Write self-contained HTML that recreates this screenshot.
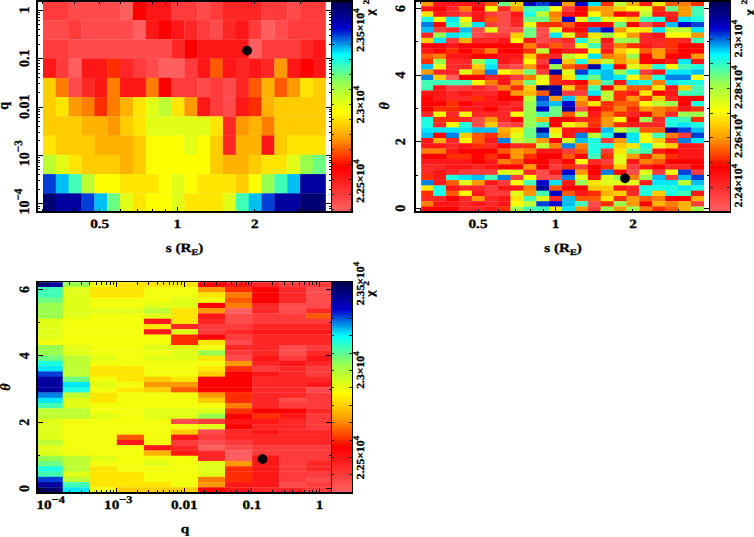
<!DOCTYPE html><html><head><meta charset="utf-8"><style>html,body{margin:0;padding:0;background:#fff;width:754px;height:537px;overflow:hidden}svg{display:block}circle,text{shape-rendering:geometricPrecision}</style></head><body><svg width="754" height="537" viewBox="0 0 754 537" shape-rendering="crispEdges" text-rendering="geometricPrecision"><defs><linearGradient id="cb" x1="0" y1="0" x2="0" y2="1"><stop offset="0.0000" stop-color="#000050"/><stop offset="0.0250" stop-color="#000068"/><stop offset="0.0500" stop-color="#000080"/><stop offset="0.0750" stop-color="#000097"/><stop offset="0.1000" stop-color="#0000af"/><stop offset="0.1250" stop-color="#0000c7"/><stop offset="0.1304" stop-color="#0000cc"/><stop offset="0.1500" stop-color="#0027d4"/><stop offset="0.1750" stop-color="#005ade"/><stop offset="0.2000" stop-color="#008ce8"/><stop offset="0.2250" stop-color="#00bff2"/><stop offset="0.2500" stop-color="#00f1fc"/><stop offset="0.2569" stop-color="#00ffff"/><stop offset="0.2750" stop-color="#15ffe7"/><stop offset="0.3000" stop-color="#31ffc6"/><stop offset="0.3250" stop-color="#4effa5"/><stop offset="0.3500" stop-color="#6aff83"/><stop offset="0.3750" stop-color="#86ff62"/><stop offset="0.3913" stop-color="#99ff4d"/><stop offset="0.4000" stop-color="#a0ff48"/><stop offset="0.4250" stop-color="#b3ff39"/><stop offset="0.4500" stop-color="#c6ff2b"/><stop offset="0.4750" stop-color="#d9ff1d"/><stop offset="0.5000" stop-color="#ecff0f"/><stop offset="0.5250" stop-color="#feff00"/><stop offset="0.5257" stop-color="#ffff00"/><stop offset="0.5500" stop-color="#ffeb00"/><stop offset="0.5750" stop-color="#ffd700"/><stop offset="0.6000" stop-color="#ffc300"/><stop offset="0.6250" stop-color="#ffaf00"/><stop offset="0.6500" stop-color="#ff9b00"/><stop offset="0.6522" stop-color="#ff9900"/><stop offset="0.6750" stop-color="#ff7f00"/><stop offset="0.7000" stop-color="#ff6300"/><stop offset="0.7250" stop-color="#ff4600"/><stop offset="0.7500" stop-color="#ff2a00"/><stop offset="0.7750" stop-color="#ff0d00"/><stop offset="0.7866" stop-color="#ff0000"/><stop offset="0.8000" stop-color="#ff0606"/><stop offset="0.8250" stop-color="#ff1212"/><stop offset="0.8500" stop-color="#ff1d1d"/><stop offset="0.8750" stop-color="#ff2929"/><stop offset="0.9000" stop-color="#ff3434"/><stop offset="0.9250" stop-color="#ff4040"/><stop offset="0.9500" stop-color="#ff4b4b"/><stop offset="0.9750" stop-color="#ff5757"/><stop offset="1.0000" stop-color="#ff6262"/></linearGradient></defs>
<rect x="0.00" y="0.00" width="754.00" height="537.00" fill="#fff"/>
<defs><filter id="bl" x="-2%" y="-2%" width="104%" height="104%"><feGaussianBlur stdDeviation="0.45"/></filter></defs>
<g filter="url(#bl)" shape-rendering="geometricPrecision">
<rect x="43.00" y="1.00" width="25.92" height="19.40" fill="#ff3a3a"/>
<rect x="68.62" y="1.00" width="51.74" height="19.40" fill="#ff4c4c"/>
<rect x="120.06" y="1.00" width="13.16" height="19.40" fill="#ff5f5f"/>
<rect x="132.92" y="1.00" width="13.16" height="19.40" fill="#ff0000"/>
<rect x="145.78" y="1.00" width="26.02" height="19.40" fill="#ff1616"/>
<rect x="171.50" y="1.00" width="26.02" height="19.40" fill="#ff3a3a"/>
<rect x="197.22" y="1.00" width="13.16" height="19.40" fill="#ff4c4c"/>
<rect x="210.08" y="1.00" width="13.16" height="19.40" fill="#ff3a3a"/>
<rect x="222.94" y="1.00" width="38.88" height="19.40" fill="#ff2828"/>
<rect x="261.52" y="1.00" width="26.02" height="19.40" fill="#ff3a3a"/>
<rect x="287.24" y="1.00" width="13.16" height="19.40" fill="#ff4c4c"/>
<rect x="300.10" y="1.00" width="25.70" height="19.40" fill="#ff3a3a"/>
<rect x="43.00" y="20.10" width="25.92" height="19.55" fill="#ff4c4c"/>
<rect x="68.62" y="20.10" width="13.16" height="19.55" fill="#ff3a3a"/>
<rect x="81.48" y="20.10" width="51.74" height="19.55" fill="#ff4c4c"/>
<rect x="132.92" y="20.10" width="13.16" height="19.55" fill="#ff5f5f"/>
<rect x="145.78" y="20.10" width="13.16" height="19.55" fill="#ff1616"/>
<rect x="158.64" y="20.10" width="13.16" height="19.55" fill="#ff0000"/>
<rect x="171.50" y="20.10" width="13.16" height="19.55" fill="#ff1616"/>
<rect x="184.36" y="20.10" width="13.16" height="19.55" fill="#ff2828"/>
<rect x="197.22" y="20.10" width="13.16" height="19.55" fill="#ff3a3a"/>
<rect x="210.08" y="20.10" width="13.16" height="19.55" fill="#ff4c4c"/>
<rect x="222.94" y="20.10" width="13.16" height="19.55" fill="#ff2828"/>
<rect x="235.80" y="20.10" width="13.16" height="19.55" fill="#ff1616"/>
<rect x="248.66" y="20.10" width="13.16" height="19.55" fill="#ff3a3a"/>
<rect x="261.52" y="20.10" width="13.16" height="19.55" fill="#ff5f5f"/>
<rect x="274.38" y="20.10" width="13.16" height="19.55" fill="#ff4c4c"/>
<rect x="287.24" y="20.10" width="38.56" height="19.55" fill="#ff3a3a"/>
<rect x="43.00" y="39.35" width="25.92" height="19.55" fill="#ff3a3a"/>
<rect x="68.62" y="39.35" width="103.18" height="19.55" fill="#ff4c4c"/>
<rect x="171.50" y="39.35" width="13.16" height="19.55" fill="#ff2828"/>
<rect x="184.36" y="39.35" width="13.16" height="19.55" fill="#ff0000"/>
<rect x="197.22" y="39.35" width="51.74" height="19.55" fill="#ff1616"/>
<rect x="248.66" y="39.35" width="13.16" height="19.55" fill="#ff5f5f"/>
<rect x="261.52" y="39.35" width="38.88" height="19.55" fill="#ff3a3a"/>
<rect x="300.10" y="39.35" width="13.16" height="19.55" fill="#ff2828"/>
<rect x="312.96" y="39.35" width="12.84" height="19.55" fill="#ff1616"/>
<rect x="43.00" y="58.60" width="13.06" height="19.55" fill="#ff1616"/>
<rect x="55.76" y="58.60" width="13.16" height="19.55" fill="#ff3a3a"/>
<rect x="68.62" y="58.60" width="13.16" height="19.55" fill="#ff5f5f"/>
<rect x="81.48" y="58.60" width="26.02" height="19.55" fill="#ff1616"/>
<rect x="107.20" y="58.60" width="13.16" height="19.55" fill="#ff2d00"/>
<rect x="120.06" y="58.60" width="13.16" height="19.55" fill="#ff2828"/>
<rect x="132.92" y="58.60" width="13.16" height="19.55" fill="#ff3a3a"/>
<rect x="145.78" y="58.60" width="13.16" height="19.55" fill="#ff4c4c"/>
<rect x="158.64" y="58.60" width="26.02" height="19.55" fill="#ff5f5f"/>
<rect x="184.36" y="58.60" width="13.16" height="19.55" fill="#ff3a3a"/>
<rect x="197.22" y="58.60" width="13.16" height="19.55" fill="#ff1616"/>
<rect x="210.08" y="58.60" width="13.16" height="19.55" fill="#ff5a00"/>
<rect x="222.94" y="58.60" width="13.16" height="19.55" fill="#ff1616"/>
<rect x="235.80" y="58.60" width="13.16" height="19.55" fill="#ff2828"/>
<rect x="248.66" y="58.60" width="13.16" height="19.55" fill="#ff1616"/>
<rect x="261.52" y="58.60" width="13.16" height="19.55" fill="#ff2828"/>
<rect x="274.38" y="58.60" width="13.16" height="19.55" fill="#ff9900"/>
<rect x="287.24" y="58.60" width="13.16" height="19.55" fill="#ff1616"/>
<rect x="300.10" y="58.60" width="13.16" height="19.55" fill="#ff0000"/>
<rect x="312.96" y="58.60" width="12.84" height="19.55" fill="#ff1616"/>
<rect x="43.00" y="77.85" width="13.06" height="19.55" fill="#ffcc00"/>
<rect x="55.76" y="77.85" width="13.16" height="19.55" fill="#ff7e00"/>
<rect x="68.62" y="77.85" width="13.16" height="19.55" fill="#ff4c4c"/>
<rect x="81.48" y="77.85" width="13.16" height="19.55" fill="#ff2828"/>
<rect x="94.34" y="77.85" width="13.16" height="19.55" fill="#ff1616"/>
<rect x="107.20" y="77.85" width="13.16" height="19.55" fill="#ff7e00"/>
<rect x="120.06" y="77.85" width="26.02" height="19.55" fill="#ff1616"/>
<rect x="145.78" y="77.85" width="13.16" height="19.55" fill="#ff7e00"/>
<rect x="158.64" y="77.85" width="13.16" height="19.55" fill="#ff0000"/>
<rect x="171.50" y="77.85" width="26.02" height="19.55" fill="#ff3a3a"/>
<rect x="197.22" y="77.85" width="13.16" height="19.55" fill="#ff4c4c"/>
<rect x="210.08" y="77.85" width="13.16" height="19.55" fill="#ff3a3a"/>
<rect x="222.94" y="77.85" width="13.16" height="19.55" fill="#ff4c4c"/>
<rect x="235.80" y="77.85" width="13.16" height="19.55" fill="#ff2828"/>
<rect x="248.66" y="77.85" width="13.16" height="19.55" fill="#ff5a00"/>
<rect x="261.52" y="77.85" width="13.16" height="19.55" fill="#ffb200"/>
<rect x="274.38" y="77.85" width="13.16" height="19.55" fill="#ff5a00"/>
<rect x="287.24" y="77.85" width="13.16" height="19.55" fill="#ff9900"/>
<rect x="300.10" y="77.85" width="13.16" height="19.55" fill="#ffe600"/>
<rect x="312.96" y="77.85" width="12.84" height="19.55" fill="#ffcc00"/>
<rect x="43.00" y="97.10" width="13.06" height="19.55" fill="#ffcc00"/>
<rect x="55.76" y="97.10" width="13.16" height="19.55" fill="#ffe600"/>
<rect x="68.62" y="97.10" width="13.16" height="19.55" fill="#ff9900"/>
<rect x="81.48" y="97.10" width="13.16" height="19.55" fill="#ff7e00"/>
<rect x="94.34" y="97.10" width="13.16" height="19.55" fill="#ff2d00"/>
<rect x="107.20" y="97.10" width="13.16" height="19.55" fill="#ff7e00"/>
<rect x="120.06" y="97.10" width="13.16" height="19.55" fill="#ffb200"/>
<rect x="132.92" y="97.10" width="13.16" height="19.55" fill="#ffe600"/>
<rect x="145.78" y="97.10" width="13.16" height="19.55" fill="#e1ff17"/>
<rect x="158.64" y="97.10" width="13.16" height="19.55" fill="#bdff31"/>
<rect x="171.50" y="97.10" width="13.16" height="19.55" fill="#ffe600"/>
<rect x="184.36" y="97.10" width="13.16" height="19.55" fill="#ff9900"/>
<rect x="197.22" y="97.10" width="13.16" height="19.55" fill="#ff1616"/>
<rect x="210.08" y="97.10" width="13.16" height="19.55" fill="#ff3a3a"/>
<rect x="222.94" y="97.10" width="13.16" height="19.55" fill="#ff4c4c"/>
<rect x="235.80" y="97.10" width="13.16" height="19.55" fill="#ff1616"/>
<rect x="248.66" y="97.10" width="13.16" height="19.55" fill="#ff2d00"/>
<rect x="261.52" y="97.10" width="13.16" height="19.55" fill="#ffb200"/>
<rect x="274.38" y="97.10" width="51.42" height="19.55" fill="#ffcc00"/>
<rect x="43.00" y="116.35" width="38.78" height="19.55" fill="#ffcc00"/>
<rect x="81.48" y="116.35" width="26.02" height="19.55" fill="#ffb200"/>
<rect x="107.20" y="116.35" width="13.16" height="19.55" fill="#ff9900"/>
<rect x="120.06" y="116.35" width="13.16" height="19.55" fill="#ffcc00"/>
<rect x="132.92" y="116.35" width="13.16" height="19.55" fill="#ffe600"/>
<rect x="145.78" y="116.35" width="64.60" height="19.55" fill="#e1ff17"/>
<rect x="210.08" y="116.35" width="13.16" height="19.55" fill="#ffe600"/>
<rect x="222.94" y="116.35" width="13.16" height="19.55" fill="#ff2828"/>
<rect x="235.80" y="116.35" width="13.16" height="19.55" fill="#ff9900"/>
<rect x="248.66" y="116.35" width="13.16" height="19.55" fill="#ffb200"/>
<rect x="261.52" y="116.35" width="13.16" height="19.55" fill="#ff7e00"/>
<rect x="274.38" y="116.35" width="51.42" height="19.55" fill="#ffcc00"/>
<rect x="43.00" y="135.60" width="13.06" height="19.55" fill="#ffe600"/>
<rect x="55.76" y="135.60" width="38.88" height="19.55" fill="#ffcc00"/>
<rect x="94.34" y="135.60" width="38.88" height="19.55" fill="#ffb200"/>
<rect x="132.92" y="135.60" width="13.16" height="19.55" fill="#ffcc00"/>
<rect x="145.78" y="135.60" width="38.88" height="19.55" fill="#ffff00"/>
<rect x="184.36" y="135.60" width="13.16" height="19.55" fill="#e1ff17"/>
<rect x="197.22" y="135.60" width="13.16" height="19.55" fill="#ffff00"/>
<rect x="210.08" y="135.60" width="13.16" height="19.55" fill="#ffcc00"/>
<rect x="222.94" y="135.60" width="13.16" height="19.55" fill="#ff2828"/>
<rect x="235.80" y="135.60" width="26.02" height="19.55" fill="#ffb200"/>
<rect x="261.52" y="135.60" width="13.16" height="19.55" fill="#ff1616"/>
<rect x="274.38" y="135.60" width="13.16" height="19.55" fill="#ffcc00"/>
<rect x="287.24" y="135.60" width="38.56" height="19.55" fill="#ffe600"/>
<rect x="43.00" y="154.85" width="13.06" height="19.55" fill="#bdff31"/>
<rect x="55.76" y="154.85" width="13.16" height="19.55" fill="#e1ff17"/>
<rect x="68.62" y="154.85" width="13.16" height="19.55" fill="#ffe600"/>
<rect x="81.48" y="154.85" width="38.88" height="19.55" fill="#ffcc00"/>
<rect x="120.06" y="154.85" width="13.16" height="19.55" fill="#ffb200"/>
<rect x="132.92" y="154.85" width="13.16" height="19.55" fill="#ffcc00"/>
<rect x="145.78" y="154.85" width="64.60" height="19.55" fill="#ffff00"/>
<rect x="210.08" y="154.85" width="13.16" height="19.55" fill="#ffcc00"/>
<rect x="222.94" y="154.85" width="26.02" height="19.55" fill="#ffb200"/>
<rect x="248.66" y="154.85" width="13.16" height="19.55" fill="#ffcc00"/>
<rect x="261.52" y="154.85" width="26.02" height="19.55" fill="#ffe600"/>
<rect x="287.24" y="154.85" width="13.16" height="19.55" fill="#e1ff17"/>
<rect x="300.10" y="154.85" width="13.16" height="19.55" fill="#99ff4d"/>
<rect x="312.96" y="154.85" width="12.84" height="19.55" fill="#6cff81"/>
<rect x="43.00" y="174.10" width="13.06" height="19.55" fill="#0040d9"/>
<rect x="55.76" y="174.10" width="13.16" height="19.55" fill="#00bff2"/>
<rect x="68.62" y="174.10" width="13.16" height="19.55" fill="#3fffb5"/>
<rect x="81.48" y="174.10" width="13.16" height="19.55" fill="#bdff31"/>
<rect x="94.34" y="174.10" width="26.02" height="19.55" fill="#ffff00"/>
<rect x="120.06" y="174.10" width="38.88" height="19.55" fill="#ffe600"/>
<rect x="158.64" y="174.10" width="13.16" height="19.55" fill="#ffff00"/>
<rect x="171.50" y="174.10" width="13.16" height="19.55" fill="#e1ff17"/>
<rect x="184.36" y="174.10" width="13.16" height="19.55" fill="#ffff00"/>
<rect x="197.22" y="174.10" width="38.88" height="19.55" fill="#ffe600"/>
<rect x="235.80" y="174.10" width="13.16" height="19.55" fill="#ffcc00"/>
<rect x="248.66" y="174.10" width="13.16" height="19.55" fill="#ffff00"/>
<rect x="261.52" y="174.10" width="13.16" height="19.55" fill="#99ff4d"/>
<rect x="274.38" y="174.10" width="13.16" height="19.55" fill="#3fffb5"/>
<rect x="287.24" y="174.10" width="13.16" height="19.55" fill="#00bff2"/>
<rect x="300.10" y="174.10" width="25.70" height="19.55" fill="#00009f"/>
<rect x="43.00" y="193.35" width="13.06" height="18.65" fill="#000072"/>
<rect x="55.76" y="193.35" width="26.02" height="18.65" fill="#00009f"/>
<rect x="81.48" y="193.35" width="13.16" height="18.65" fill="#0040d9"/>
<rect x="94.34" y="193.35" width="13.16" height="18.65" fill="#00bff2"/>
<rect x="107.20" y="193.35" width="13.16" height="18.65" fill="#6cff81"/>
<rect x="120.06" y="193.35" width="13.16" height="18.65" fill="#e1ff17"/>
<rect x="132.92" y="193.35" width="13.16" height="18.65" fill="#ffe600"/>
<rect x="145.78" y="193.35" width="26.02" height="18.65" fill="#ffff00"/>
<rect x="171.50" y="193.35" width="13.16" height="18.65" fill="#e1ff17"/>
<rect x="184.36" y="193.35" width="38.88" height="18.65" fill="#ffe600"/>
<rect x="222.94" y="193.35" width="13.16" height="18.65" fill="#e1ff17"/>
<rect x="235.80" y="193.35" width="13.16" height="18.65" fill="#3fffb5"/>
<rect x="248.66" y="193.35" width="13.16" height="18.65" fill="#00bff2"/>
<rect x="261.52" y="193.35" width="13.16" height="18.65" fill="#0040d9"/>
<rect x="274.38" y="193.35" width="26.02" height="18.65" fill="#00009f"/>
<rect x="300.10" y="193.35" width="25.70" height="18.65" fill="#000072"/>
</g>
<rect x="331.30" y="1.00" width="20.70" height="211.00" fill="url(#cb)"/>
<g filter="url(#bl)" shape-rendering="geometricPrecision">
<rect x="421.20" y="1.00" width="12.24" height="5.52" fill="#ff9900"/>
<rect x="433.14" y="1.00" width="51.86" height="5.52" fill="#ff1616"/>
<rect x="484.70" y="1.00" width="13.19" height="5.52" fill="#ff5a00"/>
<rect x="497.59" y="1.00" width="13.19" height="5.52" fill="#6cff81"/>
<rect x="510.48" y="1.00" width="13.19" height="5.52" fill="#ffcc00"/>
<rect x="523.37" y="1.00" width="13.19" height="5.52" fill="#0000cc"/>
<rect x="536.26" y="1.00" width="13.19" height="5.52" fill="#0040d9"/>
<rect x="549.15" y="1.00" width="13.19" height="5.52" fill="#00009f"/>
<rect x="562.04" y="1.00" width="13.19" height="5.52" fill="#ff9900"/>
<rect x="574.93" y="1.00" width="13.19" height="5.52" fill="#0000cc"/>
<rect x="587.82" y="1.00" width="13.19" height="5.52" fill="#00e7fa"/>
<rect x="600.71" y="1.00" width="13.19" height="5.52" fill="#ff2d00"/>
<rect x="613.60" y="1.00" width="13.19" height="5.52" fill="#bdff31"/>
<rect x="626.49" y="1.00" width="13.19" height="5.52" fill="#ffb200"/>
<rect x="639.38" y="1.00" width="13.19" height="5.52" fill="#ff1616"/>
<rect x="652.27" y="1.00" width="13.19" height="5.52" fill="#ffe600"/>
<rect x="665.16" y="1.00" width="13.19" height="5.52" fill="#ff5a00"/>
<rect x="678.05" y="1.00" width="13.19" height="5.52" fill="#ff7e00"/>
<rect x="690.94" y="1.00" width="13.06" height="5.52" fill="#ff2d00"/>
<rect x="421.20" y="6.22" width="12.24" height="5.57" fill="#ff1616"/>
<rect x="433.14" y="6.22" width="13.19" height="5.57" fill="#ff0000"/>
<rect x="446.03" y="6.22" width="13.19" height="5.57" fill="#ff2828"/>
<rect x="458.92" y="6.22" width="13.19" height="5.57" fill="#ff7e00"/>
<rect x="471.81" y="6.22" width="13.19" height="5.57" fill="#ff0000"/>
<rect x="484.70" y="6.22" width="13.19" height="5.57" fill="#ffff00"/>
<rect x="497.59" y="6.22" width="13.19" height="5.57" fill="#ff2828"/>
<rect x="510.48" y="6.22" width="13.19" height="5.57" fill="#ff9900"/>
<rect x="523.37" y="6.22" width="26.08" height="5.57" fill="#3fffb5"/>
<rect x="549.15" y="6.22" width="13.19" height="5.57" fill="#ffff00"/>
<rect x="562.04" y="6.22" width="13.19" height="5.57" fill="#ff3a3a"/>
<rect x="574.93" y="6.22" width="13.19" height="5.57" fill="#ff0000"/>
<rect x="587.82" y="6.22" width="26.08" height="5.57" fill="#ff9900"/>
<rect x="613.60" y="6.22" width="13.19" height="5.57" fill="#ffcc00"/>
<rect x="626.49" y="6.22" width="13.19" height="5.57" fill="#ffff00"/>
<rect x="639.38" y="6.22" width="13.19" height="5.57" fill="#e1ff17"/>
<rect x="652.27" y="6.22" width="13.19" height="5.57" fill="#ff2d00"/>
<rect x="665.16" y="6.22" width="13.19" height="5.57" fill="#6cff81"/>
<rect x="678.05" y="6.22" width="13.19" height="5.57" fill="#ff9900"/>
<rect x="690.94" y="6.22" width="13.06" height="5.57" fill="#3fffb5"/>
<rect x="421.20" y="11.49" width="12.24" height="5.57" fill="#ffe600"/>
<rect x="433.14" y="11.49" width="13.19" height="5.57" fill="#ff1616"/>
<rect x="446.03" y="11.49" width="13.19" height="5.57" fill="#ff2828"/>
<rect x="458.92" y="11.49" width="13.19" height="5.57" fill="#ff3a3a"/>
<rect x="471.81" y="11.49" width="13.19" height="5.57" fill="#ff1616"/>
<rect x="484.70" y="11.49" width="13.19" height="5.57" fill="#ff3a3a"/>
<rect x="497.59" y="11.49" width="13.19" height="5.57" fill="#ff4c4c"/>
<rect x="510.48" y="11.49" width="13.19" height="5.57" fill="#ff1616"/>
<rect x="523.37" y="11.49" width="13.19" height="5.57" fill="#1bffe0"/>
<rect x="536.26" y="11.49" width="13.19" height="5.57" fill="#bdff31"/>
<rect x="549.15" y="11.49" width="13.19" height="5.57" fill="#ff7e00"/>
<rect x="562.04" y="11.49" width="13.19" height="5.57" fill="#ff1616"/>
<rect x="574.93" y="11.49" width="13.19" height="5.57" fill="#ff0000"/>
<rect x="587.82" y="11.49" width="13.19" height="5.57" fill="#ffff00"/>
<rect x="600.71" y="11.49" width="13.19" height="5.57" fill="#ff9900"/>
<rect x="613.60" y="11.49" width="13.19" height="5.57" fill="#ff0000"/>
<rect x="626.49" y="11.49" width="13.19" height="5.57" fill="#ff1616"/>
<rect x="639.38" y="11.49" width="13.19" height="5.57" fill="#bdff31"/>
<rect x="652.27" y="11.49" width="13.19" height="5.57" fill="#ff1616"/>
<rect x="665.16" y="11.49" width="13.19" height="5.57" fill="#ff2828"/>
<rect x="678.05" y="11.49" width="13.19" height="5.57" fill="#ff9900"/>
<rect x="690.94" y="11.49" width="13.06" height="5.57" fill="#3fffb5"/>
<rect x="421.20" y="16.76" width="12.24" height="5.57" fill="#1bffe0"/>
<rect x="433.14" y="16.76" width="13.19" height="5.57" fill="#ffff00"/>
<rect x="446.03" y="16.76" width="13.19" height="5.57" fill="#00e7fa"/>
<rect x="458.92" y="16.76" width="13.19" height="5.57" fill="#ffff00"/>
<rect x="471.81" y="16.76" width="13.19" height="5.57" fill="#ff1616"/>
<rect x="484.70" y="16.76" width="13.19" height="5.57" fill="#ff5a00"/>
<rect x="497.59" y="16.76" width="13.19" height="5.57" fill="#ff4c4c"/>
<rect x="510.48" y="16.76" width="13.19" height="5.57" fill="#ff2828"/>
<rect x="523.37" y="16.76" width="26.08" height="5.57" fill="#6cff81"/>
<rect x="549.15" y="16.76" width="13.19" height="5.57" fill="#ff9900"/>
<rect x="562.04" y="16.76" width="13.19" height="5.57" fill="#0000cc"/>
<rect x="574.93" y="16.76" width="13.19" height="5.57" fill="#e1ff17"/>
<rect x="587.82" y="16.76" width="13.19" height="5.57" fill="#3fffb5"/>
<rect x="600.71" y="16.76" width="13.19" height="5.57" fill="#e1ff17"/>
<rect x="613.60" y="16.76" width="13.19" height="5.57" fill="#ffff00"/>
<rect x="626.49" y="16.76" width="13.19" height="5.57" fill="#ffcc00"/>
<rect x="639.38" y="16.76" width="13.19" height="5.57" fill="#3fffb5"/>
<rect x="652.27" y="16.76" width="13.19" height="5.57" fill="#1bffe0"/>
<rect x="665.16" y="16.76" width="13.19" height="5.57" fill="#ff1616"/>
<rect x="678.05" y="16.76" width="13.19" height="5.57" fill="#00e7fa"/>
<rect x="690.94" y="16.76" width="13.06" height="5.57" fill="#1bffe0"/>
<rect x="421.20" y="22.03" width="12.24" height="5.57" fill="#007fe6"/>
<rect x="433.14" y="22.03" width="13.19" height="5.57" fill="#ff0000"/>
<rect x="446.03" y="22.03" width="13.19" height="5.57" fill="#1bffe0"/>
<rect x="458.92" y="22.03" width="13.19" height="5.57" fill="#bdff31"/>
<rect x="471.81" y="22.03" width="13.19" height="5.57" fill="#00e7fa"/>
<rect x="484.70" y="22.03" width="13.19" height="5.57" fill="#ff3a3a"/>
<rect x="497.59" y="22.03" width="13.19" height="5.57" fill="#ff4c4c"/>
<rect x="510.48" y="22.03" width="13.19" height="5.57" fill="#ff2828"/>
<rect x="523.37" y="22.03" width="13.19" height="5.57" fill="#e1ff17"/>
<rect x="536.26" y="22.03" width="26.08" height="5.57" fill="#ff2d00"/>
<rect x="562.04" y="22.03" width="13.19" height="5.57" fill="#ff5a00"/>
<rect x="574.93" y="22.03" width="38.97" height="5.57" fill="#ff0000"/>
<rect x="613.60" y="22.03" width="13.19" height="5.57" fill="#6cff81"/>
<rect x="626.49" y="22.03" width="13.19" height="5.57" fill="#ff0000"/>
<rect x="639.38" y="22.03" width="13.19" height="5.57" fill="#ff4c4c"/>
<rect x="652.27" y="22.03" width="13.19" height="5.57" fill="#ff1616"/>
<rect x="665.16" y="22.03" width="13.19" height="5.57" fill="#00bff2"/>
<rect x="678.05" y="22.03" width="13.19" height="5.57" fill="#0000cc"/>
<rect x="690.94" y="22.03" width="13.06" height="5.57" fill="#0040d9"/>
<rect x="421.20" y="27.30" width="12.24" height="5.57" fill="#00bff2"/>
<rect x="433.14" y="27.30" width="13.19" height="5.57" fill="#ff3a3a"/>
<rect x="446.03" y="27.30" width="13.19" height="5.57" fill="#ff2828"/>
<rect x="458.92" y="27.30" width="13.19" height="5.57" fill="#00bff2"/>
<rect x="471.81" y="27.30" width="13.19" height="5.57" fill="#ff4c4c"/>
<rect x="484.70" y="27.30" width="13.19" height="5.57" fill="#e1ff17"/>
<rect x="497.59" y="27.30" width="26.08" height="5.57" fill="#ff4c4c"/>
<rect x="523.37" y="27.30" width="13.19" height="5.57" fill="#6cff81"/>
<rect x="536.26" y="27.30" width="13.19" height="5.57" fill="#ff4c4c"/>
<rect x="549.15" y="27.30" width="13.19" height="5.57" fill="#e1ff17"/>
<rect x="562.04" y="27.30" width="13.19" height="5.57" fill="#ff1616"/>
<rect x="574.93" y="27.30" width="13.19" height="5.57" fill="#ff0000"/>
<rect x="587.82" y="27.30" width="13.19" height="5.57" fill="#007fe6"/>
<rect x="600.71" y="27.30" width="13.19" height="5.57" fill="#0000cc"/>
<rect x="613.60" y="27.30" width="13.19" height="5.57" fill="#ff9900"/>
<rect x="626.49" y="27.30" width="13.19" height="5.57" fill="#ffff00"/>
<rect x="639.38" y="27.30" width="13.19" height="5.57" fill="#ffe600"/>
<rect x="652.27" y="27.30" width="13.19" height="5.57" fill="#00e7fa"/>
<rect x="665.16" y="27.30" width="26.08" height="5.57" fill="#bdff31"/>
<rect x="690.94" y="27.30" width="13.06" height="5.57" fill="#00e7fa"/>
<rect x="421.20" y="32.57" width="12.24" height="5.57" fill="#ff2828"/>
<rect x="433.14" y="32.57" width="13.19" height="5.57" fill="#99ff4d"/>
<rect x="446.03" y="32.57" width="13.19" height="5.57" fill="#00e7fa"/>
<rect x="458.92" y="32.57" width="13.19" height="5.57" fill="#1bffe0"/>
<rect x="471.81" y="32.57" width="13.19" height="5.57" fill="#ff4c4c"/>
<rect x="484.70" y="32.57" width="26.08" height="5.57" fill="#ff3a3a"/>
<rect x="510.48" y="32.57" width="13.19" height="5.57" fill="#ffcc00"/>
<rect x="523.37" y="32.57" width="13.19" height="5.57" fill="#6cff81"/>
<rect x="536.26" y="32.57" width="13.19" height="5.57" fill="#ff4c4c"/>
<rect x="549.15" y="32.57" width="13.19" height="5.57" fill="#00e7fa"/>
<rect x="562.04" y="32.57" width="13.19" height="5.57" fill="#e1ff17"/>
<rect x="574.93" y="32.57" width="13.19" height="5.57" fill="#ff2d00"/>
<rect x="587.82" y="32.57" width="13.19" height="5.57" fill="#ffe600"/>
<rect x="600.71" y="32.57" width="13.19" height="5.57" fill="#99ff4d"/>
<rect x="613.60" y="32.57" width="13.19" height="5.57" fill="#ffff00"/>
<rect x="626.49" y="32.57" width="13.19" height="5.57" fill="#ff9900"/>
<rect x="639.38" y="32.57" width="13.19" height="5.57" fill="#ff2828"/>
<rect x="652.27" y="32.57" width="13.19" height="5.57" fill="#ff1616"/>
<rect x="665.16" y="32.57" width="26.08" height="5.57" fill="#ffff00"/>
<rect x="690.94" y="32.57" width="13.06" height="5.57" fill="#ff9900"/>
<rect x="421.20" y="37.84" width="12.24" height="5.57" fill="#ffcc00"/>
<rect x="433.14" y="37.84" width="13.19" height="5.57" fill="#00e7fa"/>
<rect x="446.03" y="37.84" width="13.19" height="5.57" fill="#ff3a3a"/>
<rect x="458.92" y="37.84" width="13.19" height="5.57" fill="#ffb200"/>
<rect x="471.81" y="37.84" width="26.08" height="5.57" fill="#ff2828"/>
<rect x="497.59" y="37.84" width="13.19" height="5.57" fill="#ff1616"/>
<rect x="510.48" y="37.84" width="13.19" height="5.57" fill="#ffff00"/>
<rect x="523.37" y="37.84" width="13.19" height="5.57" fill="#ff1616"/>
<rect x="536.26" y="37.84" width="13.19" height="5.57" fill="#ff4c4c"/>
<rect x="549.15" y="37.84" width="13.19" height="5.57" fill="#ff3a3a"/>
<rect x="562.04" y="37.84" width="13.19" height="5.57" fill="#ff2828"/>
<rect x="574.93" y="37.84" width="13.19" height="5.57" fill="#1bffe0"/>
<rect x="587.82" y="37.84" width="13.19" height="5.57" fill="#bdff31"/>
<rect x="600.71" y="37.84" width="13.19" height="5.57" fill="#ff1616"/>
<rect x="613.60" y="37.84" width="26.08" height="5.57" fill="#99ff4d"/>
<rect x="639.38" y="37.84" width="26.08" height="5.57" fill="#ff2828"/>
<rect x="665.16" y="37.84" width="13.19" height="5.57" fill="#ff2d00"/>
<rect x="678.05" y="37.84" width="13.19" height="5.57" fill="#ff2828"/>
<rect x="690.94" y="37.84" width="13.06" height="5.57" fill="#3fffb5"/>
<rect x="421.20" y="43.11" width="25.13" height="5.57" fill="#ff0000"/>
<rect x="446.03" y="43.11" width="13.19" height="5.57" fill="#ff1616"/>
<rect x="458.92" y="43.11" width="64.75" height="5.57" fill="#ff0000"/>
<rect x="523.37" y="43.11" width="13.19" height="5.57" fill="#ff7e00"/>
<rect x="536.26" y="43.11" width="13.19" height="5.57" fill="#ff2828"/>
<rect x="549.15" y="43.11" width="13.19" height="5.57" fill="#ff5a00"/>
<rect x="562.04" y="43.11" width="13.19" height="5.57" fill="#ff3a3a"/>
<rect x="574.93" y="43.11" width="13.19" height="5.57" fill="#e1ff17"/>
<rect x="587.82" y="43.11" width="13.19" height="5.57" fill="#3fffb5"/>
<rect x="600.71" y="43.11" width="13.19" height="5.57" fill="#ff2828"/>
<rect x="613.60" y="43.11" width="13.19" height="5.57" fill="#ff7e00"/>
<rect x="626.49" y="43.11" width="13.19" height="5.57" fill="#ff2d00"/>
<rect x="639.38" y="43.11" width="13.19" height="5.57" fill="#ff1616"/>
<rect x="652.27" y="43.11" width="13.19" height="5.57" fill="#ff2828"/>
<rect x="665.16" y="43.11" width="13.19" height="5.57" fill="#ff2d00"/>
<rect x="678.05" y="43.11" width="25.95" height="5.57" fill="#ff0000"/>
<rect x="421.20" y="48.38" width="12.24" height="5.57" fill="#ff1616"/>
<rect x="433.14" y="48.38" width="13.19" height="5.57" fill="#ff0000"/>
<rect x="446.03" y="48.38" width="13.19" height="5.57" fill="#ff2d00"/>
<rect x="458.92" y="48.38" width="13.19" height="5.57" fill="#ff0000"/>
<rect x="471.81" y="48.38" width="13.19" height="5.57" fill="#ff2d00"/>
<rect x="484.70" y="48.38" width="13.19" height="5.57" fill="#ff7e00"/>
<rect x="497.59" y="48.38" width="26.08" height="5.57" fill="#ff0000"/>
<rect x="523.37" y="48.38" width="13.19" height="5.57" fill="#ff2d00"/>
<rect x="536.26" y="48.38" width="13.19" height="5.57" fill="#bdff31"/>
<rect x="549.15" y="48.38" width="13.19" height="5.57" fill="#ff0000"/>
<rect x="562.04" y="48.38" width="26.08" height="5.57" fill="#ff1616"/>
<rect x="587.82" y="48.38" width="13.19" height="5.57" fill="#ffff00"/>
<rect x="600.71" y="48.38" width="13.19" height="5.57" fill="#ff1616"/>
<rect x="613.60" y="48.38" width="13.19" height="5.57" fill="#ffcc00"/>
<rect x="626.49" y="48.38" width="13.19" height="5.57" fill="#ffff00"/>
<rect x="639.38" y="48.38" width="13.19" height="5.57" fill="#ff5a00"/>
<rect x="652.27" y="48.38" width="13.19" height="5.57" fill="#ff9900"/>
<rect x="665.16" y="48.38" width="13.19" height="5.57" fill="#ff2d00"/>
<rect x="678.05" y="48.38" width="25.95" height="5.57" fill="#ff0000"/>
<rect x="421.20" y="53.65" width="12.24" height="5.57" fill="#ff5a00"/>
<rect x="433.14" y="53.65" width="13.19" height="5.57" fill="#ff7e00"/>
<rect x="446.03" y="53.65" width="26.08" height="5.57" fill="#ff1616"/>
<rect x="471.81" y="53.65" width="26.08" height="5.57" fill="#ff0000"/>
<rect x="497.59" y="53.65" width="26.08" height="5.57" fill="#ff1616"/>
<rect x="523.37" y="53.65" width="13.19" height="5.57" fill="#ffcc00"/>
<rect x="536.26" y="53.65" width="13.19" height="5.57" fill="#ff2d00"/>
<rect x="549.15" y="53.65" width="13.19" height="5.57" fill="#ff2828"/>
<rect x="562.04" y="53.65" width="13.19" height="5.57" fill="#bdff31"/>
<rect x="574.93" y="53.65" width="13.19" height="5.57" fill="#ffff00"/>
<rect x="587.82" y="53.65" width="13.19" height="5.57" fill="#00e7fa"/>
<rect x="600.71" y="53.65" width="13.19" height="5.57" fill="#ff7e00"/>
<rect x="613.60" y="53.65" width="13.19" height="5.57" fill="#ff9900"/>
<rect x="626.49" y="53.65" width="13.19" height="5.57" fill="#99ff4d"/>
<rect x="639.38" y="53.65" width="13.19" height="5.57" fill="#ff0000"/>
<rect x="652.27" y="53.65" width="13.19" height="5.57" fill="#ff9900"/>
<rect x="665.16" y="53.65" width="26.08" height="5.57" fill="#ff0000"/>
<rect x="690.94" y="53.65" width="13.06" height="5.57" fill="#ff9900"/>
<rect x="421.20" y="58.92" width="12.24" height="5.57" fill="#ff2d00"/>
<rect x="433.14" y="58.92" width="13.19" height="5.57" fill="#99ff4d"/>
<rect x="446.03" y="58.92" width="26.08" height="5.57" fill="#ff2828"/>
<rect x="471.81" y="58.92" width="13.19" height="5.57" fill="#99ff4d"/>
<rect x="484.70" y="58.92" width="13.19" height="5.57" fill="#1bffe0"/>
<rect x="497.59" y="58.92" width="13.19" height="5.57" fill="#ff1616"/>
<rect x="510.48" y="58.92" width="13.19" height="5.57" fill="#ff2828"/>
<rect x="523.37" y="58.92" width="13.19" height="5.57" fill="#ffff00"/>
<rect x="536.26" y="58.92" width="13.19" height="5.57" fill="#ff3a3a"/>
<rect x="549.15" y="58.92" width="13.19" height="5.57" fill="#0000cc"/>
<rect x="562.04" y="58.92" width="13.19" height="5.57" fill="#ffcc00"/>
<rect x="574.93" y="58.92" width="13.19" height="5.57" fill="#1bffe0"/>
<rect x="587.82" y="58.92" width="13.19" height="5.57" fill="#ffcc00"/>
<rect x="600.71" y="58.92" width="13.19" height="5.57" fill="#bdff31"/>
<rect x="613.60" y="58.92" width="13.19" height="5.57" fill="#ff9900"/>
<rect x="626.49" y="58.92" width="13.19" height="5.57" fill="#ffcc00"/>
<rect x="639.38" y="58.92" width="26.08" height="5.57" fill="#ff0000"/>
<rect x="665.16" y="58.92" width="13.19" height="5.57" fill="#ff1616"/>
<rect x="678.05" y="58.92" width="13.19" height="5.57" fill="#00e7fa"/>
<rect x="690.94" y="58.92" width="13.06" height="5.57" fill="#ff1616"/>
<rect x="421.20" y="64.19" width="12.24" height="5.57" fill="#00bff2"/>
<rect x="433.14" y="64.19" width="13.19" height="5.57" fill="#e1ff17"/>
<rect x="446.03" y="64.19" width="26.08" height="5.57" fill="#ff2828"/>
<rect x="471.81" y="64.19" width="13.19" height="5.57" fill="#ffcc00"/>
<rect x="484.70" y="64.19" width="13.19" height="5.57" fill="#00e7fa"/>
<rect x="497.59" y="64.19" width="13.19" height="5.57" fill="#ff3a3a"/>
<rect x="510.48" y="64.19" width="13.19" height="5.57" fill="#ff4c4c"/>
<rect x="523.37" y="64.19" width="13.19" height="5.57" fill="#ff9900"/>
<rect x="536.26" y="64.19" width="13.19" height="5.57" fill="#ff1616"/>
<rect x="549.15" y="64.19" width="13.19" height="5.57" fill="#99ff4d"/>
<rect x="562.04" y="64.19" width="13.19" height="5.57" fill="#ff5a00"/>
<rect x="574.93" y="64.19" width="13.19" height="5.57" fill="#ff2d00"/>
<rect x="587.82" y="64.19" width="13.19" height="5.57" fill="#00009f"/>
<rect x="600.71" y="64.19" width="13.19" height="5.57" fill="#00e7fa"/>
<rect x="613.60" y="64.19" width="13.19" height="5.57" fill="#ff0000"/>
<rect x="626.49" y="64.19" width="13.19" height="5.57" fill="#e1ff17"/>
<rect x="639.38" y="64.19" width="13.19" height="5.57" fill="#ffcc00"/>
<rect x="652.27" y="64.19" width="13.19" height="5.57" fill="#1bffe0"/>
<rect x="665.16" y="64.19" width="13.19" height="5.57" fill="#ffff00"/>
<rect x="678.05" y="64.19" width="13.19" height="5.57" fill="#3fffb5"/>
<rect x="690.94" y="64.19" width="13.06" height="5.57" fill="#1bffe0"/>
<rect x="421.20" y="69.46" width="12.24" height="5.57" fill="#ff9900"/>
<rect x="433.14" y="69.46" width="26.08" height="5.57" fill="#ff2828"/>
<rect x="458.92" y="69.46" width="13.19" height="5.57" fill="#e1ff17"/>
<rect x="471.81" y="69.46" width="13.19" height="5.57" fill="#ff9900"/>
<rect x="484.70" y="69.46" width="13.19" height="5.57" fill="#007fe6"/>
<rect x="497.59" y="69.46" width="13.19" height="5.57" fill="#ffff00"/>
<rect x="510.48" y="69.46" width="13.19" height="5.57" fill="#ffcc00"/>
<rect x="523.37" y="69.46" width="13.19" height="5.57" fill="#6cff81"/>
<rect x="536.26" y="69.46" width="13.19" height="5.57" fill="#ff3a3a"/>
<rect x="549.15" y="69.46" width="13.19" height="5.57" fill="#00009f"/>
<rect x="562.04" y="69.46" width="13.19" height="5.57" fill="#e1ff17"/>
<rect x="574.93" y="69.46" width="13.19" height="5.57" fill="#0040d9"/>
<rect x="587.82" y="69.46" width="13.19" height="5.57" fill="#00e7fa"/>
<rect x="600.71" y="69.46" width="13.19" height="5.57" fill="#00bff2"/>
<rect x="613.60" y="69.46" width="13.19" height="5.57" fill="#99ff4d"/>
<rect x="626.49" y="69.46" width="13.19" height="5.57" fill="#1bffe0"/>
<rect x="639.38" y="69.46" width="13.19" height="5.57" fill="#ff3a3a"/>
<rect x="652.27" y="69.46" width="13.19" height="5.57" fill="#ff1616"/>
<rect x="665.16" y="69.46" width="26.08" height="5.57" fill="#00e7fa"/>
<rect x="690.94" y="69.46" width="13.06" height="5.57" fill="#00bff2"/>
<rect x="421.20" y="74.73" width="12.24" height="5.57" fill="#007fe6"/>
<rect x="433.14" y="74.73" width="13.19" height="5.57" fill="#ffcc00"/>
<rect x="446.03" y="74.73" width="13.19" height="5.57" fill="#ff5f5f"/>
<rect x="458.92" y="74.73" width="26.08" height="5.57" fill="#ff0000"/>
<rect x="484.70" y="74.73" width="13.19" height="5.57" fill="#ff2828"/>
<rect x="497.59" y="74.73" width="13.19" height="5.57" fill="#ff1616"/>
<rect x="510.48" y="74.73" width="13.19" height="5.57" fill="#ff3a3a"/>
<rect x="523.37" y="74.73" width="13.19" height="5.57" fill="#ff7e00"/>
<rect x="536.26" y="74.73" width="13.19" height="5.57" fill="#e1ff17"/>
<rect x="549.15" y="74.73" width="13.19" height="5.57" fill="#ff2d00"/>
<rect x="562.04" y="74.73" width="13.19" height="5.57" fill="#ffe600"/>
<rect x="574.93" y="74.73" width="13.19" height="5.57" fill="#1bffe0"/>
<rect x="587.82" y="74.73" width="13.19" height="5.57" fill="#6cff81"/>
<rect x="600.71" y="74.73" width="13.19" height="5.57" fill="#00bff2"/>
<rect x="613.60" y="74.73" width="13.19" height="5.57" fill="#00e7fa"/>
<rect x="626.49" y="74.73" width="13.19" height="5.57" fill="#ffff00"/>
<rect x="639.38" y="74.73" width="13.19" height="5.57" fill="#ff9900"/>
<rect x="652.27" y="74.73" width="13.19" height="5.57" fill="#1bffe0"/>
<rect x="665.16" y="74.73" width="26.08" height="5.57" fill="#007fe6"/>
<rect x="690.94" y="74.73" width="13.06" height="5.57" fill="#ffff00"/>
<rect x="421.20" y="80.00" width="50.91" height="5.57" fill="#3fffb5"/>
<rect x="471.81" y="80.00" width="13.19" height="5.57" fill="#ffff00"/>
<rect x="484.70" y="80.00" width="13.19" height="5.57" fill="#ff7e00"/>
<rect x="497.59" y="80.00" width="13.19" height="5.57" fill="#ff1616"/>
<rect x="510.48" y="80.00" width="13.19" height="5.57" fill="#ff9900"/>
<rect x="523.37" y="80.00" width="13.19" height="5.57" fill="#6cff81"/>
<rect x="536.26" y="80.00" width="13.19" height="5.57" fill="#ffff00"/>
<rect x="549.15" y="80.00" width="13.19" height="5.57" fill="#ff2d00"/>
<rect x="562.04" y="80.00" width="13.19" height="5.57" fill="#ff1616"/>
<rect x="574.93" y="80.00" width="13.19" height="5.57" fill="#ff0000"/>
<rect x="587.82" y="80.00" width="13.19" height="5.57" fill="#ffb200"/>
<rect x="600.71" y="80.00" width="13.19" height="5.57" fill="#3fffb5"/>
<rect x="613.60" y="80.00" width="13.19" height="5.57" fill="#ff1616"/>
<rect x="626.49" y="80.00" width="13.19" height="5.57" fill="#00e7fa"/>
<rect x="639.38" y="80.00" width="13.19" height="5.57" fill="#1bffe0"/>
<rect x="652.27" y="80.00" width="13.19" height="5.57" fill="#ff7e00"/>
<rect x="665.16" y="80.00" width="13.19" height="5.57" fill="#00e7fa"/>
<rect x="678.05" y="80.00" width="25.95" height="5.57" fill="#1bffe0"/>
<rect x="421.20" y="85.27" width="12.24" height="5.57" fill="#3fffb5"/>
<rect x="433.14" y="85.27" width="13.19" height="5.57" fill="#ff1616"/>
<rect x="446.03" y="85.27" width="26.08" height="5.57" fill="#ff3a3a"/>
<rect x="471.81" y="85.27" width="13.19" height="5.57" fill="#ff2828"/>
<rect x="484.70" y="85.27" width="13.19" height="5.57" fill="#ff3a3a"/>
<rect x="497.59" y="85.27" width="13.19" height="5.57" fill="#ff7e00"/>
<rect x="510.48" y="85.27" width="13.19" height="5.57" fill="#ff2d00"/>
<rect x="523.37" y="85.27" width="13.19" height="5.57" fill="#ffcc00"/>
<rect x="536.26" y="85.27" width="13.19" height="5.57" fill="#000072"/>
<rect x="549.15" y="85.27" width="13.19" height="5.57" fill="#00009f"/>
<rect x="562.04" y="85.27" width="13.19" height="5.57" fill="#ffcc00"/>
<rect x="574.93" y="85.27" width="13.19" height="5.57" fill="#ff2d00"/>
<rect x="587.82" y="85.27" width="13.19" height="5.57" fill="#3fffb5"/>
<rect x="600.71" y="85.27" width="13.19" height="5.57" fill="#ff0000"/>
<rect x="613.60" y="85.27" width="13.19" height="5.57" fill="#ffcc00"/>
<rect x="626.49" y="85.27" width="26.08" height="5.57" fill="#ff5a00"/>
<rect x="652.27" y="85.27" width="13.19" height="5.57" fill="#ffe600"/>
<rect x="665.16" y="85.27" width="13.19" height="5.57" fill="#ff1616"/>
<rect x="678.05" y="85.27" width="13.19" height="5.57" fill="#ffcc00"/>
<rect x="690.94" y="85.27" width="13.06" height="5.57" fill="#3fffb5"/>
<rect x="421.20" y="90.54" width="25.13" height="5.57" fill="#ff1616"/>
<rect x="446.03" y="90.54" width="13.19" height="5.57" fill="#ff2828"/>
<rect x="458.92" y="90.54" width="13.19" height="5.57" fill="#ff1616"/>
<rect x="471.81" y="90.54" width="26.08" height="5.57" fill="#ff2828"/>
<rect x="497.59" y="90.54" width="13.19" height="5.57" fill="#ff0000"/>
<rect x="510.48" y="90.54" width="13.19" height="5.57" fill="#ff9900"/>
<rect x="523.37" y="90.54" width="13.19" height="5.57" fill="#ffb200"/>
<rect x="536.26" y="90.54" width="13.19" height="5.57" fill="#ff5a00"/>
<rect x="549.15" y="90.54" width="13.19" height="5.57" fill="#00009f"/>
<rect x="562.04" y="90.54" width="26.08" height="5.57" fill="#ff3a3a"/>
<rect x="587.82" y="90.54" width="13.19" height="5.57" fill="#00e7fa"/>
<rect x="600.71" y="90.54" width="13.19" height="5.57" fill="#bdff31"/>
<rect x="613.60" y="90.54" width="13.19" height="5.57" fill="#ff2d00"/>
<rect x="626.49" y="90.54" width="13.19" height="5.57" fill="#ff1616"/>
<rect x="639.38" y="90.54" width="13.19" height="5.57" fill="#ffe600"/>
<rect x="652.27" y="90.54" width="13.19" height="5.57" fill="#ff0000"/>
<rect x="665.16" y="90.54" width="13.19" height="5.57" fill="#ff1616"/>
<rect x="678.05" y="90.54" width="25.95" height="5.57" fill="#3fffb5"/>
<rect x="421.20" y="95.81" width="12.24" height="5.57" fill="#ff0000"/>
<rect x="433.14" y="95.81" width="13.19" height="5.57" fill="#ff1616"/>
<rect x="446.03" y="95.81" width="26.08" height="5.57" fill="#ff2828"/>
<rect x="471.81" y="95.81" width="13.19" height="5.57" fill="#ff2d00"/>
<rect x="484.70" y="95.81" width="13.19" height="5.57" fill="#ff1616"/>
<rect x="497.59" y="95.81" width="26.08" height="5.57" fill="#ff0000"/>
<rect x="523.37" y="95.81" width="13.19" height="5.57" fill="#bdff31"/>
<rect x="536.26" y="95.81" width="13.19" height="5.57" fill="#0040d9"/>
<rect x="549.15" y="95.81" width="13.19" height="5.57" fill="#ff9900"/>
<rect x="562.04" y="95.81" width="13.19" height="5.57" fill="#00bff2"/>
<rect x="574.93" y="95.81" width="13.19" height="5.57" fill="#ffb200"/>
<rect x="587.82" y="95.81" width="13.19" height="5.57" fill="#ff0000"/>
<rect x="600.71" y="95.81" width="13.19" height="5.57" fill="#bdff31"/>
<rect x="613.60" y="95.81" width="13.19" height="5.57" fill="#ff2d00"/>
<rect x="626.49" y="95.81" width="13.19" height="5.57" fill="#ff9900"/>
<rect x="639.38" y="95.81" width="13.19" height="5.57" fill="#ff2d00"/>
<rect x="652.27" y="95.81" width="13.19" height="5.57" fill="#ffcc00"/>
<rect x="665.16" y="95.81" width="13.19" height="5.57" fill="#ff2828"/>
<rect x="678.05" y="95.81" width="25.95" height="5.57" fill="#ff0000"/>
<rect x="421.20" y="101.08" width="25.13" height="5.57" fill="#ff0000"/>
<rect x="446.03" y="101.08" width="13.19" height="5.57" fill="#ff2d00"/>
<rect x="458.92" y="101.08" width="13.19" height="5.57" fill="#ff0000"/>
<rect x="471.81" y="101.08" width="38.97" height="5.57" fill="#ff1616"/>
<rect x="510.48" y="101.08" width="13.19" height="5.57" fill="#ff2828"/>
<rect x="523.37" y="101.08" width="13.19" height="5.57" fill="#99ff4d"/>
<rect x="536.26" y="101.08" width="13.19" height="5.57" fill="#007fe6"/>
<rect x="549.15" y="101.08" width="13.19" height="5.57" fill="#00bff2"/>
<rect x="562.04" y="101.08" width="13.19" height="5.57" fill="#0000cc"/>
<rect x="574.93" y="101.08" width="13.19" height="5.57" fill="#ff7e00"/>
<rect x="587.82" y="101.08" width="13.19" height="5.57" fill="#ffe600"/>
<rect x="600.71" y="101.08" width="13.19" height="5.57" fill="#ff2d00"/>
<rect x="613.60" y="101.08" width="26.08" height="5.57" fill="#ff5a00"/>
<rect x="639.38" y="101.08" width="13.19" height="5.57" fill="#ffff00"/>
<rect x="652.27" y="101.08" width="13.19" height="5.57" fill="#bdff31"/>
<rect x="665.16" y="101.08" width="13.19" height="5.57" fill="#99ff4d"/>
<rect x="678.05" y="101.08" width="13.19" height="5.57" fill="#ff0000"/>
<rect x="690.94" y="101.08" width="13.06" height="5.57" fill="#1bffe0"/>
<rect x="421.20" y="106.35" width="12.24" height="5.57" fill="#ff0000"/>
<rect x="433.14" y="106.35" width="26.08" height="5.57" fill="#ff2d00"/>
<rect x="458.92" y="106.35" width="26.08" height="5.57" fill="#ff1616"/>
<rect x="484.70" y="106.35" width="13.19" height="5.57" fill="#ff0000"/>
<rect x="497.59" y="106.35" width="13.19" height="5.57" fill="#ff2828"/>
<rect x="510.48" y="106.35" width="13.19" height="5.57" fill="#ff1616"/>
<rect x="523.37" y="106.35" width="13.19" height="5.57" fill="#99ff4d"/>
<rect x="536.26" y="106.35" width="13.19" height="5.57" fill="#0000cc"/>
<rect x="549.15" y="106.35" width="13.19" height="5.57" fill="#6cff81"/>
<rect x="562.04" y="106.35" width="13.19" height="5.57" fill="#00009f"/>
<rect x="574.93" y="106.35" width="13.19" height="5.57" fill="#ff4c4c"/>
<rect x="587.82" y="106.35" width="13.19" height="5.57" fill="#ff0000"/>
<rect x="600.71" y="106.35" width="13.19" height="5.57" fill="#ff2d00"/>
<rect x="613.60" y="106.35" width="13.19" height="5.57" fill="#ff7e00"/>
<rect x="626.49" y="106.35" width="13.19" height="5.57" fill="#ff2d00"/>
<rect x="639.38" y="106.35" width="13.19" height="5.57" fill="#ff9900"/>
<rect x="652.27" y="106.35" width="13.19" height="5.57" fill="#ff7e00"/>
<rect x="665.16" y="106.35" width="13.19" height="5.57" fill="#ff5a00"/>
<rect x="678.05" y="106.35" width="13.19" height="5.57" fill="#ff1616"/>
<rect x="690.94" y="106.35" width="13.06" height="5.57" fill="#ff2d00"/>
<rect x="421.20" y="111.62" width="12.24" height="5.57" fill="#ff2828"/>
<rect x="433.14" y="111.62" width="13.19" height="5.57" fill="#ffff00"/>
<rect x="446.03" y="111.62" width="13.19" height="5.57" fill="#ff2828"/>
<rect x="458.92" y="111.62" width="13.19" height="5.57" fill="#ffff00"/>
<rect x="471.81" y="111.62" width="38.97" height="5.57" fill="#ff2828"/>
<rect x="510.48" y="111.62" width="13.19" height="5.57" fill="#ffff00"/>
<rect x="523.37" y="111.62" width="13.19" height="5.57" fill="#99ff4d"/>
<rect x="536.26" y="111.62" width="13.19" height="5.57" fill="#3fffb5"/>
<rect x="549.15" y="111.62" width="13.19" height="5.57" fill="#6cff81"/>
<rect x="562.04" y="111.62" width="13.19" height="5.57" fill="#ff5a00"/>
<rect x="574.93" y="111.62" width="13.19" height="5.57" fill="#bdff31"/>
<rect x="587.82" y="111.62" width="13.19" height="5.57" fill="#ff1616"/>
<rect x="600.71" y="111.62" width="13.19" height="5.57" fill="#ff7e00"/>
<rect x="613.60" y="111.62" width="13.19" height="5.57" fill="#ff2d00"/>
<rect x="626.49" y="111.62" width="13.19" height="5.57" fill="#ff2828"/>
<rect x="639.38" y="111.62" width="13.19" height="5.57" fill="#ff0000"/>
<rect x="652.27" y="111.62" width="13.19" height="5.57" fill="#ff7e00"/>
<rect x="665.16" y="111.62" width="13.19" height="5.57" fill="#ff2828"/>
<rect x="678.05" y="111.62" width="25.95" height="5.57" fill="#99ff4d"/>
<rect x="421.20" y="116.89" width="12.24" height="5.57" fill="#1bffe0"/>
<rect x="433.14" y="116.89" width="26.08" height="5.57" fill="#ff2d00"/>
<rect x="458.92" y="116.89" width="13.19" height="5.57" fill="#ff2828"/>
<rect x="471.81" y="116.89" width="13.19" height="5.57" fill="#ff4c4c"/>
<rect x="484.70" y="116.89" width="13.19" height="5.57" fill="#ff9900"/>
<rect x="497.59" y="116.89" width="13.19" height="5.57" fill="#ff2828"/>
<rect x="510.48" y="116.89" width="13.19" height="5.57" fill="#ff0000"/>
<rect x="523.37" y="116.89" width="13.19" height="5.57" fill="#99ff4d"/>
<rect x="536.26" y="116.89" width="13.19" height="5.57" fill="#ffb200"/>
<rect x="549.15" y="116.89" width="26.08" height="5.57" fill="#ff0000"/>
<rect x="574.93" y="116.89" width="13.19" height="5.57" fill="#ff2828"/>
<rect x="587.82" y="116.89" width="13.19" height="5.57" fill="#ff2d00"/>
<rect x="600.71" y="116.89" width="13.19" height="5.57" fill="#ff9900"/>
<rect x="613.60" y="116.89" width="13.19" height="5.57" fill="#ffff00"/>
<rect x="626.49" y="116.89" width="13.19" height="5.57" fill="#ff0000"/>
<rect x="639.38" y="116.89" width="13.19" height="5.57" fill="#99ff4d"/>
<rect x="652.27" y="116.89" width="13.19" height="5.57" fill="#ff2828"/>
<rect x="665.16" y="116.89" width="13.19" height="5.57" fill="#1bffe0"/>
<rect x="678.05" y="116.89" width="13.19" height="5.57" fill="#3fffb5"/>
<rect x="690.94" y="116.89" width="13.06" height="5.57" fill="#ff2d00"/>
<rect x="421.20" y="122.16" width="12.24" height="5.57" fill="#1bffe0"/>
<rect x="433.14" y="122.16" width="13.19" height="5.57" fill="#ff2828"/>
<rect x="446.03" y="122.16" width="13.19" height="5.57" fill="#ffff00"/>
<rect x="458.92" y="122.16" width="13.19" height="5.57" fill="#1bffe0"/>
<rect x="471.81" y="122.16" width="13.19" height="5.57" fill="#ff4c4c"/>
<rect x="484.70" y="122.16" width="13.19" height="5.57" fill="#ffcc00"/>
<rect x="497.59" y="122.16" width="13.19" height="5.57" fill="#ff4c4c"/>
<rect x="510.48" y="122.16" width="13.19" height="5.57" fill="#ff3a3a"/>
<rect x="523.37" y="122.16" width="13.19" height="5.57" fill="#99ff4d"/>
<rect x="536.26" y="122.16" width="13.19" height="5.57" fill="#3fffb5"/>
<rect x="549.15" y="122.16" width="13.19" height="5.57" fill="#ff0000"/>
<rect x="562.04" y="122.16" width="13.19" height="5.57" fill="#ffff00"/>
<rect x="574.93" y="122.16" width="13.19" height="5.57" fill="#ffcc00"/>
<rect x="587.82" y="122.16" width="13.19" height="5.57" fill="#ff2d00"/>
<rect x="600.71" y="122.16" width="13.19" height="5.57" fill="#ff9900"/>
<rect x="613.60" y="122.16" width="13.19" height="5.57" fill="#ff2d00"/>
<rect x="626.49" y="122.16" width="13.19" height="5.57" fill="#ff1616"/>
<rect x="639.38" y="122.16" width="26.08" height="5.57" fill="#ff2828"/>
<rect x="665.16" y="122.16" width="13.19" height="5.57" fill="#1bffe0"/>
<rect x="678.05" y="122.16" width="13.19" height="5.57" fill="#00e7fa"/>
<rect x="690.94" y="122.16" width="13.06" height="5.57" fill="#1bffe0"/>
<rect x="421.20" y="127.43" width="50.91" height="5.57" fill="#00e7fa"/>
<rect x="471.81" y="127.43" width="26.08" height="5.57" fill="#00bff2"/>
<rect x="497.59" y="127.43" width="13.19" height="5.57" fill="#ffb200"/>
<rect x="510.48" y="127.43" width="13.19" height="5.57" fill="#ffe600"/>
<rect x="523.37" y="127.43" width="13.19" height="5.57" fill="#6cff81"/>
<rect x="536.26" y="127.43" width="13.19" height="5.57" fill="#00009f"/>
<rect x="549.15" y="127.43" width="13.19" height="5.57" fill="#ffe600"/>
<rect x="562.04" y="127.43" width="26.08" height="5.57" fill="#ff1616"/>
<rect x="587.82" y="127.43" width="13.19" height="5.57" fill="#ff0000"/>
<rect x="600.71" y="127.43" width="13.19" height="5.57" fill="#00bff2"/>
<rect x="613.60" y="127.43" width="13.19" height="5.57" fill="#bdff31"/>
<rect x="626.49" y="127.43" width="13.19" height="5.57" fill="#6cff81"/>
<rect x="639.38" y="127.43" width="26.08" height="5.57" fill="#ff5a00"/>
<rect x="665.16" y="127.43" width="13.19" height="5.57" fill="#00009f"/>
<rect x="678.05" y="127.43" width="13.19" height="5.57" fill="#0040d9"/>
<rect x="690.94" y="127.43" width="13.06" height="5.57" fill="#00bff2"/>
<rect x="421.20" y="132.70" width="12.24" height="5.57" fill="#00bff2"/>
<rect x="433.14" y="132.70" width="13.19" height="5.57" fill="#ff0000"/>
<rect x="446.03" y="132.70" width="13.19" height="5.57" fill="#007fe6"/>
<rect x="458.92" y="132.70" width="13.19" height="5.57" fill="#ffcc00"/>
<rect x="471.81" y="132.70" width="13.19" height="5.57" fill="#ff5a00"/>
<rect x="484.70" y="132.70" width="13.19" height="5.57" fill="#ff2d00"/>
<rect x="497.59" y="132.70" width="13.19" height="5.57" fill="#ff9900"/>
<rect x="510.48" y="132.70" width="13.19" height="5.57" fill="#e1ff17"/>
<rect x="523.37" y="132.70" width="13.19" height="5.57" fill="#6cff81"/>
<rect x="536.26" y="132.70" width="13.19" height="5.57" fill="#007fe6"/>
<rect x="549.15" y="132.70" width="13.19" height="5.57" fill="#e1ff17"/>
<rect x="562.04" y="132.70" width="13.19" height="5.57" fill="#ff1616"/>
<rect x="574.93" y="132.70" width="13.19" height="5.57" fill="#007fe6"/>
<rect x="587.82" y="132.70" width="13.19" height="5.57" fill="#bdff31"/>
<rect x="600.71" y="132.70" width="13.19" height="5.57" fill="#1bffe0"/>
<rect x="613.60" y="132.70" width="13.19" height="5.57" fill="#00009f"/>
<rect x="626.49" y="132.70" width="13.19" height="5.57" fill="#00e7fa"/>
<rect x="639.38" y="132.70" width="13.19" height="5.57" fill="#ffff00"/>
<rect x="652.27" y="132.70" width="13.19" height="5.57" fill="#3fffb5"/>
<rect x="665.16" y="132.70" width="13.19" height="5.57" fill="#ff7e00"/>
<rect x="678.05" y="132.70" width="13.19" height="5.57" fill="#ff3a3a"/>
<rect x="690.94" y="132.70" width="13.06" height="5.57" fill="#0040d9"/>
<rect x="421.20" y="137.97" width="12.24" height="5.57" fill="#ff1616"/>
<rect x="433.14" y="137.97" width="13.19" height="5.57" fill="#ffb200"/>
<rect x="446.03" y="137.97" width="13.19" height="5.57" fill="#ff2828"/>
<rect x="458.92" y="137.97" width="13.19" height="5.57" fill="#ffff00"/>
<rect x="471.81" y="137.97" width="13.19" height="5.57" fill="#ff5a00"/>
<rect x="484.70" y="137.97" width="13.19" height="5.57" fill="#ff1616"/>
<rect x="497.59" y="137.97" width="13.19" height="5.57" fill="#007fe6"/>
<rect x="510.48" y="137.97" width="13.19" height="5.57" fill="#bdff31"/>
<rect x="523.37" y="137.97" width="13.19" height="5.57" fill="#99ff4d"/>
<rect x="536.26" y="137.97" width="13.19" height="5.57" fill="#ff9900"/>
<rect x="549.15" y="137.97" width="13.19" height="5.57" fill="#ff0000"/>
<rect x="562.04" y="137.97" width="13.19" height="5.57" fill="#e1ff17"/>
<rect x="574.93" y="137.97" width="13.19" height="5.57" fill="#00bff2"/>
<rect x="587.82" y="137.97" width="13.19" height="5.57" fill="#1bffe0"/>
<rect x="600.71" y="137.97" width="13.19" height="5.57" fill="#ff3a3a"/>
<rect x="613.60" y="137.97" width="13.19" height="5.57" fill="#ff9900"/>
<rect x="626.49" y="137.97" width="13.19" height="5.57" fill="#00e7fa"/>
<rect x="639.38" y="137.97" width="13.19" height="5.57" fill="#ffff00"/>
<rect x="652.27" y="137.97" width="13.19" height="5.57" fill="#ffcc00"/>
<rect x="665.16" y="137.97" width="13.19" height="5.57" fill="#ff2828"/>
<rect x="678.05" y="137.97" width="13.19" height="5.57" fill="#007fe6"/>
<rect x="690.94" y="137.97" width="13.06" height="5.57" fill="#00e7fa"/>
<rect x="421.20" y="143.24" width="25.13" height="5.57" fill="#ff1616"/>
<rect x="446.03" y="143.24" width="13.19" height="5.57" fill="#ff2828"/>
<rect x="458.92" y="143.24" width="13.19" height="5.57" fill="#ff1616"/>
<rect x="471.81" y="143.24" width="13.19" height="5.57" fill="#ff2d00"/>
<rect x="484.70" y="143.24" width="13.19" height="5.57" fill="#ff2828"/>
<rect x="497.59" y="143.24" width="13.19" height="5.57" fill="#ff0000"/>
<rect x="510.48" y="143.24" width="13.19" height="5.57" fill="#ff2828"/>
<rect x="523.37" y="143.24" width="13.19" height="5.57" fill="#ff2d00"/>
<rect x="536.26" y="143.24" width="13.19" height="5.57" fill="#bdff31"/>
<rect x="549.15" y="143.24" width="13.19" height="5.57" fill="#ff7e00"/>
<rect x="562.04" y="143.24" width="13.19" height="5.57" fill="#007fe6"/>
<rect x="574.93" y="143.24" width="13.19" height="5.57" fill="#ff7e00"/>
<rect x="587.82" y="143.24" width="26.08" height="5.57" fill="#1bffe0"/>
<rect x="613.60" y="143.24" width="13.19" height="5.57" fill="#ffcc00"/>
<rect x="626.49" y="143.24" width="13.19" height="5.57" fill="#ffe600"/>
<rect x="639.38" y="143.24" width="13.19" height="5.57" fill="#1bffe0"/>
<rect x="652.27" y="143.24" width="13.19" height="5.57" fill="#e1ff17"/>
<rect x="665.16" y="143.24" width="13.19" height="5.57" fill="#ffcc00"/>
<rect x="678.05" y="143.24" width="25.95" height="5.57" fill="#ff1616"/>
<rect x="421.20" y="148.51" width="25.13" height="5.57" fill="#ff7e00"/>
<rect x="446.03" y="148.51" width="13.19" height="5.57" fill="#ff1616"/>
<rect x="458.92" y="148.51" width="38.97" height="5.57" fill="#ff0000"/>
<rect x="497.59" y="148.51" width="13.19" height="5.57" fill="#ff5a00"/>
<rect x="510.48" y="148.51" width="13.19" height="5.57" fill="#ff9900"/>
<rect x="523.37" y="148.51" width="13.19" height="5.57" fill="#ff7e00"/>
<rect x="536.26" y="148.51" width="26.08" height="5.57" fill="#ff1616"/>
<rect x="562.04" y="148.51" width="13.19" height="5.57" fill="#ff3a3a"/>
<rect x="574.93" y="148.51" width="13.19" height="5.57" fill="#ff5a00"/>
<rect x="587.82" y="148.51" width="13.19" height="5.57" fill="#1bffe0"/>
<rect x="600.71" y="148.51" width="13.19" height="5.57" fill="#ff3a3a"/>
<rect x="613.60" y="148.51" width="13.19" height="5.57" fill="#ffe600"/>
<rect x="626.49" y="148.51" width="13.19" height="5.57" fill="#6cff81"/>
<rect x="639.38" y="148.51" width="13.19" height="5.57" fill="#3fffb5"/>
<rect x="652.27" y="148.51" width="13.19" height="5.57" fill="#ff1616"/>
<rect x="665.16" y="148.51" width="13.19" height="5.57" fill="#ff0000"/>
<rect x="678.05" y="148.51" width="25.95" height="5.57" fill="#ff1616"/>
<rect x="421.20" y="153.78" width="25.13" height="5.57" fill="#ff0000"/>
<rect x="446.03" y="153.78" width="26.08" height="5.57" fill="#ff2d00"/>
<rect x="471.81" y="153.78" width="13.19" height="5.57" fill="#ff0000"/>
<rect x="484.70" y="153.78" width="13.19" height="5.57" fill="#ff2d00"/>
<rect x="497.59" y="153.78" width="13.19" height="5.57" fill="#ff0000"/>
<rect x="510.48" y="153.78" width="13.19" height="5.57" fill="#ff9900"/>
<rect x="523.37" y="153.78" width="13.19" height="5.57" fill="#ff2d00"/>
<rect x="536.26" y="153.78" width="26.08" height="5.57" fill="#ff0000"/>
<rect x="562.04" y="153.78" width="13.19" height="5.57" fill="#ff5a00"/>
<rect x="574.93" y="153.78" width="13.19" height="5.57" fill="#ff0000"/>
<rect x="587.82" y="153.78" width="13.19" height="5.57" fill="#3fffb5"/>
<rect x="600.71" y="153.78" width="13.19" height="5.57" fill="#ff2d00"/>
<rect x="613.60" y="153.78" width="13.19" height="5.57" fill="#e1ff17"/>
<rect x="626.49" y="153.78" width="13.19" height="5.57" fill="#ff9900"/>
<rect x="639.38" y="153.78" width="13.19" height="5.57" fill="#ff2d00"/>
<rect x="652.27" y="153.78" width="13.19" height="5.57" fill="#ff9900"/>
<rect x="665.16" y="153.78" width="13.19" height="5.57" fill="#ff2d00"/>
<rect x="678.05" y="153.78" width="25.95" height="5.57" fill="#ff1616"/>
<rect x="421.20" y="159.05" width="50.91" height="5.57" fill="#ff1616"/>
<rect x="471.81" y="159.05" width="13.19" height="5.57" fill="#ff0000"/>
<rect x="484.70" y="159.05" width="13.19" height="5.57" fill="#ff1616"/>
<rect x="497.59" y="159.05" width="13.19" height="5.57" fill="#ff7e00"/>
<rect x="510.48" y="159.05" width="13.19" height="5.57" fill="#ff5a00"/>
<rect x="523.37" y="159.05" width="26.08" height="5.57" fill="#ff0000"/>
<rect x="549.15" y="159.05" width="13.19" height="5.57" fill="#ff2828"/>
<rect x="562.04" y="159.05" width="13.19" height="5.57" fill="#ff0000"/>
<rect x="574.93" y="159.05" width="13.19" height="5.57" fill="#ffff00"/>
<rect x="587.82" y="159.05" width="13.19" height="5.57" fill="#ff2828"/>
<rect x="600.71" y="159.05" width="13.19" height="5.57" fill="#ff3a3a"/>
<rect x="613.60" y="159.05" width="13.19" height="5.57" fill="#e1ff17"/>
<rect x="626.49" y="159.05" width="13.19" height="5.57" fill="#ff1616"/>
<rect x="639.38" y="159.05" width="13.19" height="5.57" fill="#ff7e00"/>
<rect x="652.27" y="159.05" width="13.19" height="5.57" fill="#ff5a00"/>
<rect x="665.16" y="159.05" width="38.84" height="5.57" fill="#ff0000"/>
<rect x="421.20" y="164.32" width="25.13" height="5.57" fill="#ff2828"/>
<rect x="446.03" y="164.32" width="26.08" height="5.57" fill="#ff1616"/>
<rect x="471.81" y="164.32" width="13.19" height="5.57" fill="#ff2828"/>
<rect x="484.70" y="164.32" width="13.19" height="5.57" fill="#ff1616"/>
<rect x="497.59" y="164.32" width="26.08" height="5.57" fill="#ff0000"/>
<rect x="523.37" y="164.32" width="13.19" height="5.57" fill="#ff9900"/>
<rect x="536.26" y="164.32" width="13.19" height="5.57" fill="#ff0000"/>
<rect x="549.15" y="164.32" width="13.19" height="5.57" fill="#ff3a3a"/>
<rect x="562.04" y="164.32" width="13.19" height="5.57" fill="#ff2d00"/>
<rect x="574.93" y="164.32" width="13.19" height="5.57" fill="#ff3a3a"/>
<rect x="587.82" y="164.32" width="13.19" height="5.57" fill="#ff0000"/>
<rect x="600.71" y="164.32" width="13.19" height="5.57" fill="#ff2d00"/>
<rect x="613.60" y="164.32" width="13.19" height="5.57" fill="#ffcc00"/>
<rect x="626.49" y="164.32" width="13.19" height="5.57" fill="#ff3a3a"/>
<rect x="639.38" y="164.32" width="13.19" height="5.57" fill="#ff1616"/>
<rect x="652.27" y="164.32" width="13.19" height="5.57" fill="#ff0000"/>
<rect x="665.16" y="164.32" width="26.08" height="5.57" fill="#ff2828"/>
<rect x="690.94" y="164.32" width="13.06" height="5.57" fill="#ff0000"/>
<rect x="421.20" y="169.59" width="12.24" height="5.57" fill="#ff2828"/>
<rect x="433.14" y="169.59" width="13.19" height="5.57" fill="#ff1616"/>
<rect x="446.03" y="169.59" width="13.19" height="5.57" fill="#ff2828"/>
<rect x="458.92" y="169.59" width="38.97" height="5.57" fill="#ff3a3a"/>
<rect x="497.59" y="169.59" width="26.08" height="5.57" fill="#e1ff17"/>
<rect x="523.37" y="169.59" width="13.19" height="5.57" fill="#ff2828"/>
<rect x="536.26" y="169.59" width="13.19" height="5.57" fill="#ff4c4c"/>
<rect x="549.15" y="169.59" width="13.19" height="5.57" fill="#ff1616"/>
<rect x="562.04" y="169.59" width="13.19" height="5.57" fill="#0000cc"/>
<rect x="574.93" y="169.59" width="13.19" height="5.57" fill="#ff9900"/>
<rect x="587.82" y="169.59" width="13.19" height="5.57" fill="#ff0000"/>
<rect x="600.71" y="169.59" width="13.19" height="5.57" fill="#007fe6"/>
<rect x="613.60" y="169.59" width="13.19" height="5.57" fill="#ff0000"/>
<rect x="626.49" y="169.59" width="13.19" height="5.57" fill="#ff4c4c"/>
<rect x="639.38" y="169.59" width="13.19" height="5.57" fill="#e1ff17"/>
<rect x="652.27" y="169.59" width="13.19" height="5.57" fill="#ff3a3a"/>
<rect x="665.16" y="169.59" width="13.19" height="5.57" fill="#ffff00"/>
<rect x="678.05" y="169.59" width="13.19" height="5.57" fill="#0040d9"/>
<rect x="690.94" y="169.59" width="13.06" height="5.57" fill="#ff3a3a"/>
<rect x="421.20" y="174.86" width="12.24" height="5.57" fill="#ff2d00"/>
<rect x="433.14" y="174.86" width="13.19" height="5.57" fill="#ff1616"/>
<rect x="446.03" y="174.86" width="13.19" height="5.57" fill="#1bffe0"/>
<rect x="458.92" y="174.86" width="13.19" height="5.57" fill="#00e7fa"/>
<rect x="471.81" y="174.86" width="13.19" height="5.57" fill="#00bff2"/>
<rect x="484.70" y="174.86" width="13.19" height="5.57" fill="#3fffb5"/>
<rect x="497.59" y="174.86" width="13.19" height="5.57" fill="#007fe6"/>
<rect x="510.48" y="174.86" width="13.19" height="5.57" fill="#ff3a3a"/>
<rect x="523.37" y="174.86" width="13.19" height="5.57" fill="#ffff00"/>
<rect x="536.26" y="174.86" width="26.08" height="5.57" fill="#ff4c4c"/>
<rect x="562.04" y="174.86" width="13.19" height="5.57" fill="#007fe6"/>
<rect x="574.93" y="174.86" width="13.19" height="5.57" fill="#e1ff17"/>
<rect x="587.82" y="174.86" width="13.19" height="5.57" fill="#ff1616"/>
<rect x="600.71" y="174.86" width="13.19" height="5.57" fill="#e1ff17"/>
<rect x="613.60" y="174.86" width="13.19" height="5.57" fill="#99ff4d"/>
<rect x="626.49" y="174.86" width="13.19" height="5.57" fill="#ff7e00"/>
<rect x="639.38" y="174.86" width="13.19" height="5.57" fill="#99ff4d"/>
<rect x="652.27" y="174.86" width="13.19" height="5.57" fill="#00bff2"/>
<rect x="665.16" y="174.86" width="13.19" height="5.57" fill="#ff3a3a"/>
<rect x="678.05" y="174.86" width="13.19" height="5.57" fill="#00bff2"/>
<rect x="690.94" y="174.86" width="13.06" height="5.57" fill="#0040d9"/>
<rect x="421.20" y="180.13" width="12.24" height="5.57" fill="#007fe6"/>
<rect x="433.14" y="180.13" width="13.19" height="5.57" fill="#ff1616"/>
<rect x="446.03" y="180.13" width="13.19" height="5.57" fill="#ff5a00"/>
<rect x="458.92" y="180.13" width="13.19" height="5.57" fill="#e1ff17"/>
<rect x="471.81" y="180.13" width="13.19" height="5.57" fill="#ff9900"/>
<rect x="484.70" y="180.13" width="13.19" height="5.57" fill="#ff1616"/>
<rect x="497.59" y="180.13" width="13.19" height="5.57" fill="#ff3a3a"/>
<rect x="510.48" y="180.13" width="13.19" height="5.57" fill="#ffff00"/>
<rect x="523.37" y="180.13" width="13.19" height="5.57" fill="#3fffb5"/>
<rect x="536.26" y="180.13" width="13.19" height="5.57" fill="#0000cc"/>
<rect x="549.15" y="180.13" width="13.19" height="5.57" fill="#00e7fa"/>
<rect x="562.04" y="180.13" width="13.19" height="5.57" fill="#ff1616"/>
<rect x="574.93" y="180.13" width="13.19" height="5.57" fill="#99ff4d"/>
<rect x="587.82" y="180.13" width="13.19" height="5.57" fill="#ffe600"/>
<rect x="600.71" y="180.13" width="38.97" height="5.57" fill="#e1ff17"/>
<rect x="639.38" y="180.13" width="13.19" height="5.57" fill="#ff1616"/>
<rect x="652.27" y="180.13" width="26.08" height="5.57" fill="#00e7fa"/>
<rect x="678.05" y="180.13" width="13.19" height="5.57" fill="#bdff31"/>
<rect x="690.94" y="180.13" width="13.06" height="5.57" fill="#00bff2"/>
<rect x="421.20" y="185.40" width="12.24" height="5.57" fill="#ffe600"/>
<rect x="433.14" y="185.40" width="13.19" height="5.57" fill="#1bffe0"/>
<rect x="446.03" y="185.40" width="13.19" height="5.57" fill="#ff1616"/>
<rect x="458.92" y="185.40" width="26.08" height="5.57" fill="#ff2828"/>
<rect x="484.70" y="185.40" width="13.19" height="5.57" fill="#ff3a3a"/>
<rect x="497.59" y="185.40" width="26.08" height="5.57" fill="#ff1616"/>
<rect x="523.37" y="185.40" width="13.19" height="5.57" fill="#ff7e00"/>
<rect x="536.26" y="185.40" width="13.19" height="5.57" fill="#00009f"/>
<rect x="549.15" y="185.40" width="13.19" height="5.57" fill="#ff5a00"/>
<rect x="562.04" y="185.40" width="26.08" height="5.57" fill="#ff0000"/>
<rect x="587.82" y="185.40" width="26.08" height="5.57" fill="#ffcc00"/>
<rect x="613.60" y="185.40" width="13.19" height="5.57" fill="#ff1616"/>
<rect x="626.49" y="185.40" width="13.19" height="5.57" fill="#ff2828"/>
<rect x="639.38" y="185.40" width="38.97" height="5.57" fill="#1bffe0"/>
<rect x="678.05" y="185.40" width="13.19" height="5.57" fill="#00e7fa"/>
<rect x="690.94" y="185.40" width="13.06" height="5.57" fill="#1bffe0"/>
<rect x="421.20" y="190.67" width="12.24" height="5.57" fill="#ff2d00"/>
<rect x="433.14" y="190.67" width="13.19" height="5.57" fill="#1bffe0"/>
<rect x="446.03" y="190.67" width="13.19" height="5.57" fill="#ff5a00"/>
<rect x="458.92" y="190.67" width="13.19" height="5.57" fill="#ffff00"/>
<rect x="471.81" y="190.67" width="13.19" height="5.57" fill="#ff1616"/>
<rect x="484.70" y="190.67" width="26.08" height="5.57" fill="#ff3a3a"/>
<rect x="510.48" y="190.67" width="13.19" height="5.57" fill="#e1ff17"/>
<rect x="523.37" y="190.67" width="13.19" height="5.57" fill="#ff9900"/>
<rect x="536.26" y="190.67" width="13.19" height="5.57" fill="#3fffb5"/>
<rect x="549.15" y="190.67" width="13.19" height="5.57" fill="#0000cc"/>
<rect x="562.04" y="190.67" width="13.19" height="5.57" fill="#ff5a00"/>
<rect x="574.93" y="190.67" width="13.19" height="5.57" fill="#ff1616"/>
<rect x="587.82" y="190.67" width="13.19" height="5.57" fill="#ff2d00"/>
<rect x="600.71" y="190.67" width="13.19" height="5.57" fill="#ffb200"/>
<rect x="613.60" y="190.67" width="13.19" height="5.57" fill="#ffcc00"/>
<rect x="626.49" y="190.67" width="13.19" height="5.57" fill="#ff2828"/>
<rect x="639.38" y="190.67" width="13.19" height="5.57" fill="#1bffe0"/>
<rect x="652.27" y="190.67" width="13.19" height="5.57" fill="#ffcc00"/>
<rect x="665.16" y="190.67" width="13.19" height="5.57" fill="#1bffe0"/>
<rect x="678.05" y="190.67" width="13.19" height="5.57" fill="#3fffb5"/>
<rect x="690.94" y="190.67" width="13.06" height="5.57" fill="#ff1616"/>
<rect x="421.20" y="195.94" width="25.13" height="5.57" fill="#ff2828"/>
<rect x="446.03" y="195.94" width="13.19" height="5.57" fill="#ff0000"/>
<rect x="458.92" y="195.94" width="13.19" height="5.57" fill="#ff2828"/>
<rect x="471.81" y="195.94" width="13.19" height="5.57" fill="#ff9900"/>
<rect x="484.70" y="195.94" width="13.19" height="5.57" fill="#ff2828"/>
<rect x="497.59" y="195.94" width="13.19" height="5.57" fill="#ff1616"/>
<rect x="510.48" y="195.94" width="13.19" height="5.57" fill="#ffe600"/>
<rect x="523.37" y="195.94" width="13.19" height="5.57" fill="#3fffb5"/>
<rect x="536.26" y="195.94" width="13.19" height="5.57" fill="#e1ff17"/>
<rect x="549.15" y="195.94" width="13.19" height="5.57" fill="#ff2828"/>
<rect x="562.04" y="195.94" width="13.19" height="5.57" fill="#00bff2"/>
<rect x="574.93" y="195.94" width="26.08" height="5.57" fill="#ff5a00"/>
<rect x="600.71" y="195.94" width="13.19" height="5.57" fill="#ffe600"/>
<rect x="613.60" y="195.94" width="13.19" height="5.57" fill="#ff2d00"/>
<rect x="626.49" y="195.94" width="13.19" height="5.57" fill="#ff9900"/>
<rect x="639.38" y="195.94" width="13.19" height="5.57" fill="#ff5a00"/>
<rect x="652.27" y="195.94" width="13.19" height="5.57" fill="#ff7e00"/>
<rect x="665.16" y="195.94" width="26.08" height="5.57" fill="#ff0000"/>
<rect x="690.94" y="195.94" width="13.06" height="5.57" fill="#ffb200"/>
<rect x="421.20" y="201.21" width="12.24" height="5.57" fill="#ff7e00"/>
<rect x="433.14" y="201.21" width="26.08" height="5.57" fill="#ff1616"/>
<rect x="458.92" y="201.21" width="13.19" height="5.57" fill="#ff2828"/>
<rect x="471.81" y="201.21" width="13.19" height="5.57" fill="#ff1616"/>
<rect x="484.70" y="201.21" width="13.19" height="5.57" fill="#ff2828"/>
<rect x="497.59" y="201.21" width="13.19" height="5.57" fill="#ff1616"/>
<rect x="510.48" y="201.21" width="13.19" height="5.57" fill="#ffff00"/>
<rect x="523.37" y="201.21" width="13.19" height="5.57" fill="#bdff31"/>
<rect x="536.26" y="201.21" width="13.19" height="5.57" fill="#0040d9"/>
<rect x="549.15" y="201.21" width="13.19" height="5.57" fill="#0000cc"/>
<rect x="562.04" y="201.21" width="13.19" height="5.57" fill="#00bff2"/>
<rect x="574.93" y="201.21" width="13.19" height="5.57" fill="#3fffb5"/>
<rect x="587.82" y="201.21" width="13.19" height="5.57" fill="#ff4c4c"/>
<rect x="600.71" y="201.21" width="13.19" height="5.57" fill="#ff2d00"/>
<rect x="613.60" y="201.21" width="13.19" height="5.57" fill="#99ff4d"/>
<rect x="626.49" y="201.21" width="13.19" height="5.57" fill="#ff9900"/>
<rect x="639.38" y="201.21" width="13.19" height="5.57" fill="#ff0000"/>
<rect x="652.27" y="201.21" width="13.19" height="5.57" fill="#ffb200"/>
<rect x="665.16" y="201.21" width="13.19" height="5.57" fill="#ff7e00"/>
<rect x="678.05" y="201.21" width="13.19" height="5.57" fill="#ffb200"/>
<rect x="690.94" y="201.21" width="13.06" height="5.57" fill="#ff3a3a"/>
<rect x="421.20" y="206.48" width="38.02" height="5.52" fill="#ff0000"/>
<rect x="458.92" y="206.48" width="26.08" height="5.52" fill="#ff2828"/>
<rect x="484.70" y="206.48" width="13.19" height="5.52" fill="#ff1616"/>
<rect x="497.59" y="206.48" width="13.19" height="5.52" fill="#ff2d00"/>
<rect x="510.48" y="206.48" width="13.19" height="5.52" fill="#99ff4d"/>
<rect x="523.37" y="206.48" width="26.08" height="5.52" fill="#3fffb5"/>
<rect x="549.15" y="206.48" width="13.19" height="5.52" fill="#ffe600"/>
<rect x="562.04" y="206.48" width="13.19" height="5.52" fill="#00e7fa"/>
<rect x="574.93" y="206.48" width="13.19" height="5.52" fill="#ff9900"/>
<rect x="587.82" y="206.48" width="13.19" height="5.52" fill="#ff3a3a"/>
<rect x="600.71" y="206.48" width="13.19" height="5.52" fill="#99ff4d"/>
<rect x="613.60" y="206.48" width="13.19" height="5.52" fill="#ff9900"/>
<rect x="626.49" y="206.48" width="13.19" height="5.52" fill="#99ff4d"/>
<rect x="639.38" y="206.48" width="13.19" height="5.52" fill="#ff7e00"/>
<rect x="652.27" y="206.48" width="13.19" height="5.52" fill="#ff2d00"/>
<rect x="665.16" y="206.48" width="13.19" height="5.52" fill="#ff5a00"/>
<rect x="678.05" y="206.48" width="13.19" height="5.52" fill="#ffb200"/>
<rect x="690.94" y="206.48" width="13.06" height="5.52" fill="#99ff4d"/>
</g>
<rect x="709.60" y="1.00" width="20.60" height="211.00" fill="url(#cb)"/>
<g filter="url(#bl)" shape-rendering="geometricPrecision">
<rect x="36.60" y="282.20" width="26.45" height="5.17" fill="#00009f"/>
<rect x="62.75" y="282.20" width="27.35" height="5.17" fill="#99ff4d"/>
<rect x="89.80" y="282.20" width="27.35" height="5.17" fill="#f3ff09"/>
<rect x="116.85" y="282.20" width="81.45" height="5.17" fill="#ffe600"/>
<rect x="198.00" y="282.20" width="27.35" height="5.17" fill="#ff0000"/>
<rect x="225.05" y="282.20" width="27.35" height="5.17" fill="#ff1616"/>
<rect x="252.10" y="282.20" width="27.35" height="5.17" fill="#ff2828"/>
<rect x="279.15" y="282.20" width="52.15" height="5.17" fill="#ff3a3a"/>
<rect x="36.60" y="287.07" width="26.45" height="5.57" fill="#3fffb5"/>
<rect x="62.75" y="287.07" width="27.35" height="5.57" fill="#e1ff17"/>
<rect x="89.80" y="287.07" width="54.40" height="5.57" fill="#ffe600"/>
<rect x="143.90" y="287.07" width="54.40" height="5.57" fill="#f3ff09"/>
<rect x="198.00" y="287.07" width="27.35" height="5.57" fill="#ff9900"/>
<rect x="225.05" y="287.07" width="27.35" height="5.57" fill="#ff2d00"/>
<rect x="252.10" y="287.07" width="27.35" height="5.57" fill="#ff0000"/>
<rect x="279.15" y="287.07" width="27.35" height="5.57" fill="#ff2828"/>
<rect x="306.20" y="287.07" width="25.10" height="5.57" fill="#ff4c4c"/>
<rect x="36.60" y="292.34" width="26.45" height="5.57" fill="#3fffb5"/>
<rect x="62.75" y="292.34" width="27.35" height="5.57" fill="#e1ff17"/>
<rect x="89.80" y="292.34" width="54.40" height="5.57" fill="#ffe600"/>
<rect x="143.90" y="292.34" width="54.40" height="5.57" fill="#f3ff09"/>
<rect x="198.00" y="292.34" width="27.35" height="5.57" fill="#ffe600"/>
<rect x="225.05" y="292.34" width="27.35" height="5.57" fill="#ff7e00"/>
<rect x="252.10" y="292.34" width="27.35" height="5.57" fill="#ff0000"/>
<rect x="279.15" y="292.34" width="27.35" height="5.57" fill="#ff2828"/>
<rect x="306.20" y="292.34" width="25.10" height="5.57" fill="#ff4c4c"/>
<rect x="36.60" y="297.61" width="26.45" height="5.57" fill="#6cff81"/>
<rect x="62.75" y="297.61" width="27.35" height="5.57" fill="#e1ff17"/>
<rect x="89.80" y="297.61" width="81.45" height="5.57" fill="#f3ff09"/>
<rect x="170.95" y="297.61" width="27.35" height="5.57" fill="#e1ff17"/>
<rect x="198.00" y="297.61" width="27.35" height="5.57" fill="#f3ff09"/>
<rect x="225.05" y="297.61" width="27.35" height="5.57" fill="#ff5a00"/>
<rect x="252.10" y="297.61" width="27.35" height="5.57" fill="#ff0000"/>
<rect x="279.15" y="297.61" width="27.35" height="5.57" fill="#ff2828"/>
<rect x="306.20" y="297.61" width="25.10" height="5.57" fill="#ff4c4c"/>
<rect x="36.60" y="302.88" width="26.45" height="5.57" fill="#99ff4d"/>
<rect x="62.75" y="302.88" width="27.35" height="5.57" fill="#e1ff17"/>
<rect x="89.80" y="302.88" width="54.40" height="5.57" fill="#f3ff09"/>
<rect x="143.90" y="302.88" width="54.40" height="5.57" fill="#e1ff17"/>
<rect x="198.00" y="302.88" width="27.35" height="5.57" fill="#ff0000"/>
<rect x="225.05" y="302.88" width="27.35" height="5.57" fill="#ff7e00"/>
<rect x="252.10" y="302.88" width="27.35" height="5.57" fill="#ff2828"/>
<rect x="279.15" y="302.88" width="52.15" height="5.57" fill="#ff4c4c"/>
<rect x="36.60" y="308.15" width="26.45" height="5.57" fill="#99ff4d"/>
<rect x="62.75" y="308.15" width="81.45" height="5.57" fill="#e1ff17"/>
<rect x="143.90" y="308.15" width="27.35" height="5.57" fill="#bdff31"/>
<rect x="170.95" y="308.15" width="27.35" height="5.57" fill="#ffe600"/>
<rect x="198.00" y="308.15" width="27.35" height="5.57" fill="#ff9900"/>
<rect x="225.05" y="308.15" width="27.35" height="5.57" fill="#ff5f5f"/>
<rect x="252.10" y="308.15" width="27.35" height="5.57" fill="#ff2828"/>
<rect x="279.15" y="308.15" width="27.35" height="5.57" fill="#ff4c4c"/>
<rect x="306.20" y="308.15" width="25.10" height="5.57" fill="#ff2828"/>
<rect x="36.60" y="313.42" width="26.45" height="5.57" fill="#99ff4d"/>
<rect x="62.75" y="313.42" width="27.35" height="5.57" fill="#e1ff17"/>
<rect x="89.80" y="313.42" width="54.40" height="5.57" fill="#f3ff09"/>
<rect x="143.90" y="313.42" width="27.35" height="5.57" fill="#e1ff17"/>
<rect x="170.95" y="313.42" width="27.35" height="5.57" fill="#ffe600"/>
<rect x="198.00" y="313.42" width="27.35" height="5.57" fill="#ff1616"/>
<rect x="225.05" y="313.42" width="27.35" height="5.57" fill="#ff4c4c"/>
<rect x="252.10" y="313.42" width="54.40" height="5.57" fill="#ff3a3a"/>
<rect x="306.20" y="313.42" width="25.10" height="5.57" fill="#ff5a00"/>
<rect x="36.60" y="318.69" width="26.45" height="5.57" fill="#e1ff17"/>
<rect x="62.75" y="318.69" width="81.45" height="5.57" fill="#f3ff09"/>
<rect x="143.90" y="318.69" width="27.35" height="5.57" fill="#ff1616"/>
<rect x="170.95" y="318.69" width="27.35" height="5.57" fill="#ffe600"/>
<rect x="198.00" y="318.69" width="27.35" height="5.57" fill="#ff2828"/>
<rect x="225.05" y="318.69" width="27.35" height="5.57" fill="#ff4c4c"/>
<rect x="252.10" y="318.69" width="79.20" height="5.57" fill="#ff3a3a"/>
<rect x="36.60" y="323.96" width="26.45" height="5.57" fill="#e1ff17"/>
<rect x="62.75" y="323.96" width="81.45" height="5.57" fill="#f3ff09"/>
<rect x="143.90" y="323.96" width="27.35" height="5.57" fill="#ffe600"/>
<rect x="170.95" y="323.96" width="27.35" height="5.57" fill="#ff2828"/>
<rect x="198.00" y="323.96" width="54.40" height="5.57" fill="#ff3a3a"/>
<rect x="252.10" y="323.96" width="79.20" height="5.57" fill="#ff2828"/>
<rect x="36.60" y="329.23" width="26.45" height="5.57" fill="#e1ff17"/>
<rect x="62.75" y="329.23" width="81.45" height="5.57" fill="#f3ff09"/>
<rect x="143.90" y="329.23" width="27.35" height="5.57" fill="#ff1616"/>
<rect x="170.95" y="329.23" width="27.35" height="5.57" fill="#e1ff17"/>
<rect x="198.00" y="329.23" width="27.35" height="5.57" fill="#ff3a3a"/>
<rect x="225.05" y="329.23" width="27.35" height="5.57" fill="#ff2828"/>
<rect x="252.10" y="329.23" width="79.20" height="5.57" fill="#ff1616"/>
<rect x="36.60" y="334.50" width="26.45" height="5.57" fill="#e1ff17"/>
<rect x="62.75" y="334.50" width="108.50" height="5.57" fill="#f3ff09"/>
<rect x="170.95" y="334.50" width="27.35" height="5.57" fill="#ff2d00"/>
<rect x="198.00" y="334.50" width="27.35" height="5.57" fill="#ff0000"/>
<rect x="225.05" y="334.50" width="27.35" height="5.57" fill="#ff3a3a"/>
<rect x="252.10" y="334.50" width="79.20" height="5.57" fill="#ff2828"/>
<rect x="36.60" y="339.77" width="134.65" height="5.57" fill="#f3ff09"/>
<rect x="170.95" y="339.77" width="27.35" height="5.57" fill="#ff2d00"/>
<rect x="198.00" y="339.77" width="27.35" height="5.57" fill="#ffe600"/>
<rect x="225.05" y="339.77" width="27.35" height="5.57" fill="#ff4c4c"/>
<rect x="252.10" y="339.77" width="79.20" height="5.57" fill="#ff2828"/>
<rect x="36.60" y="345.04" width="26.45" height="5.57" fill="#99ff4d"/>
<rect x="62.75" y="345.04" width="27.35" height="5.57" fill="#e1ff17"/>
<rect x="89.80" y="345.04" width="54.40" height="5.57" fill="#f3ff09"/>
<rect x="143.90" y="345.04" width="54.40" height="5.57" fill="#e1ff17"/>
<rect x="198.00" y="345.04" width="27.35" height="5.57" fill="#f3ff09"/>
<rect x="225.05" y="345.04" width="54.40" height="5.57" fill="#ff2828"/>
<rect x="279.15" y="345.04" width="27.35" height="5.57" fill="#ff4c4c"/>
<rect x="306.20" y="345.04" width="25.10" height="5.57" fill="#ff3a3a"/>
<rect x="36.60" y="350.31" width="26.45" height="5.57" fill="#99ff4d"/>
<rect x="62.75" y="350.31" width="27.35" height="5.57" fill="#e1ff17"/>
<rect x="89.80" y="350.31" width="81.45" height="5.57" fill="#f3ff09"/>
<rect x="170.95" y="350.31" width="27.35" height="5.57" fill="#e1ff17"/>
<rect x="198.00" y="350.31" width="27.35" height="5.57" fill="#99ff4d"/>
<rect x="225.05" y="350.31" width="27.35" height="5.57" fill="#ff3a3a"/>
<rect x="252.10" y="350.31" width="27.35" height="5.57" fill="#ff2828"/>
<rect x="279.15" y="350.31" width="27.35" height="5.57" fill="#ff4c4c"/>
<rect x="306.20" y="350.31" width="25.10" height="5.57" fill="#ff2828"/>
<rect x="36.60" y="355.58" width="26.45" height="5.57" fill="#6cff81"/>
<rect x="62.75" y="355.58" width="27.35" height="5.57" fill="#bdff31"/>
<rect x="89.80" y="355.58" width="27.35" height="5.57" fill="#e1ff17"/>
<rect x="116.85" y="355.58" width="27.35" height="5.57" fill="#f3ff09"/>
<rect x="143.90" y="355.58" width="54.40" height="5.57" fill="#e1ff17"/>
<rect x="198.00" y="355.58" width="27.35" height="5.57" fill="#ffe600"/>
<rect x="225.05" y="355.58" width="27.35" height="5.57" fill="#ff4c4c"/>
<rect x="252.10" y="355.58" width="27.35" height="5.57" fill="#ff1616"/>
<rect x="279.15" y="355.58" width="27.35" height="5.57" fill="#ff3a3a"/>
<rect x="306.20" y="355.58" width="25.10" height="5.57" fill="#ff1616"/>
<rect x="36.60" y="360.85" width="26.45" height="5.57" fill="#1bffe0"/>
<rect x="62.75" y="360.85" width="27.35" height="5.57" fill="#bdff31"/>
<rect x="89.80" y="360.85" width="135.55" height="5.57" fill="#f3ff09"/>
<rect x="225.05" y="360.85" width="27.35" height="5.57" fill="#ff9900"/>
<rect x="252.10" y="360.85" width="27.35" height="5.57" fill="#ff2828"/>
<rect x="279.15" y="360.85" width="27.35" height="5.57" fill="#ff1616"/>
<rect x="306.20" y="360.85" width="25.10" height="5.57" fill="#ff2828"/>
<rect x="36.60" y="366.12" width="26.45" height="5.57" fill="#00e7fa"/>
<rect x="62.75" y="366.12" width="27.35" height="5.57" fill="#bdff31"/>
<rect x="89.80" y="366.12" width="54.40" height="5.57" fill="#ffe600"/>
<rect x="143.90" y="366.12" width="54.40" height="5.57" fill="#f3ff09"/>
<rect x="198.00" y="366.12" width="27.35" height="5.57" fill="#ffe600"/>
<rect x="225.05" y="366.12" width="27.35" height="5.57" fill="#ff2d00"/>
<rect x="252.10" y="366.12" width="27.35" height="5.57" fill="#ff3a3a"/>
<rect x="279.15" y="366.12" width="27.35" height="5.57" fill="#ff2828"/>
<rect x="306.20" y="366.12" width="25.10" height="5.57" fill="#ff3a3a"/>
<rect x="36.60" y="371.39" width="26.45" height="5.57" fill="#0040d9"/>
<rect x="62.75" y="371.39" width="27.35" height="5.57" fill="#bdff31"/>
<rect x="89.80" y="371.39" width="54.40" height="5.57" fill="#ffe600"/>
<rect x="143.90" y="371.39" width="54.40" height="5.57" fill="#f3ff09"/>
<rect x="198.00" y="371.39" width="27.35" height="5.57" fill="#ffcc00"/>
<rect x="225.05" y="371.39" width="27.35" height="5.57" fill="#ff0000"/>
<rect x="252.10" y="371.39" width="27.35" height="5.57" fill="#ff1616"/>
<rect x="279.15" y="371.39" width="27.35" height="5.57" fill="#ff2828"/>
<rect x="306.20" y="371.39" width="25.10" height="5.57" fill="#ff3a3a"/>
<rect x="36.60" y="376.66" width="26.45" height="5.57" fill="#00009f"/>
<rect x="62.75" y="376.66" width="27.35" height="5.57" fill="#6cff81"/>
<rect x="89.80" y="376.66" width="27.35" height="5.57" fill="#f3ff09"/>
<rect x="116.85" y="376.66" width="27.35" height="5.57" fill="#ffe600"/>
<rect x="143.90" y="376.66" width="27.35" height="5.57" fill="#ffcc00"/>
<rect x="170.95" y="376.66" width="27.35" height="5.57" fill="#ffe600"/>
<rect x="198.00" y="376.66" width="54.40" height="5.57" fill="#ff0000"/>
<rect x="252.10" y="376.66" width="79.20" height="5.57" fill="#ff2828"/>
<rect x="36.60" y="381.93" width="26.45" height="5.57" fill="#00009f"/>
<rect x="62.75" y="381.93" width="27.35" height="5.57" fill="#00e7fa"/>
<rect x="89.80" y="381.93" width="27.35" height="5.57" fill="#e1ff17"/>
<rect x="116.85" y="381.93" width="27.35" height="5.57" fill="#f3ff09"/>
<rect x="143.90" y="381.93" width="54.40" height="5.57" fill="#ff9900"/>
<rect x="198.00" y="381.93" width="54.40" height="5.57" fill="#ff0000"/>
<rect x="252.10" y="381.93" width="54.40" height="5.57" fill="#ff2828"/>
<rect x="306.20" y="381.93" width="25.10" height="5.57" fill="#ff1616"/>
<rect x="36.60" y="387.20" width="26.45" height="5.57" fill="#00009f"/>
<rect x="62.75" y="387.20" width="27.35" height="5.57" fill="#1bffe0"/>
<rect x="89.80" y="387.20" width="27.35" height="5.57" fill="#f3ff09"/>
<rect x="116.85" y="387.20" width="27.35" height="5.57" fill="#ffe600"/>
<rect x="143.90" y="387.20" width="27.35" height="5.57" fill="#ffcc00"/>
<rect x="170.95" y="387.20" width="27.35" height="5.57" fill="#ff5a00"/>
<rect x="198.00" y="387.20" width="54.40" height="5.57" fill="#ff0000"/>
<rect x="252.10" y="387.20" width="54.40" height="5.57" fill="#ff2828"/>
<rect x="306.20" y="387.20" width="25.10" height="5.57" fill="#ff4c4c"/>
<rect x="36.60" y="392.47" width="26.45" height="5.57" fill="#007fe6"/>
<rect x="62.75" y="392.47" width="27.35" height="5.57" fill="#bdff31"/>
<rect x="89.80" y="392.47" width="27.35" height="5.57" fill="#ffe600"/>
<rect x="116.85" y="392.47" width="81.45" height="5.57" fill="#f3ff09"/>
<rect x="198.00" y="392.47" width="27.35" height="5.57" fill="#ff9900"/>
<rect x="225.05" y="392.47" width="27.35" height="5.57" fill="#ff2d00"/>
<rect x="252.10" y="392.47" width="54.40" height="5.57" fill="#ff2828"/>
<rect x="306.20" y="392.47" width="25.10" height="5.57" fill="#ff3a3a"/>
<rect x="36.60" y="397.74" width="26.45" height="5.57" fill="#00e7fa"/>
<rect x="62.75" y="397.74" width="27.35" height="5.57" fill="#e1ff17"/>
<rect x="89.80" y="397.74" width="27.35" height="5.57" fill="#ffe600"/>
<rect x="116.85" y="397.74" width="81.45" height="5.57" fill="#f3ff09"/>
<rect x="198.00" y="397.74" width="27.35" height="5.57" fill="#ffcc00"/>
<rect x="225.05" y="397.74" width="27.35" height="5.57" fill="#ff2d00"/>
<rect x="252.10" y="397.74" width="27.35" height="5.57" fill="#ff2828"/>
<rect x="279.15" y="397.74" width="27.35" height="5.57" fill="#ff4c4c"/>
<rect x="306.20" y="397.74" width="25.10" height="5.57" fill="#ff3a3a"/>
<rect x="36.60" y="403.01" width="26.45" height="5.57" fill="#3fffb5"/>
<rect x="62.75" y="403.01" width="27.35" height="5.57" fill="#e1ff17"/>
<rect x="89.80" y="403.01" width="135.55" height="5.57" fill="#f3ff09"/>
<rect x="225.05" y="403.01" width="27.35" height="5.57" fill="#ff7e00"/>
<rect x="252.10" y="403.01" width="27.35" height="5.57" fill="#ff2828"/>
<rect x="279.15" y="403.01" width="52.15" height="5.57" fill="#ff3a3a"/>
<rect x="36.60" y="408.28" width="53.50" height="5.57" fill="#bdff31"/>
<rect x="89.80" y="408.28" width="54.40" height="5.57" fill="#f3ff09"/>
<rect x="143.90" y="408.28" width="81.45" height="5.57" fill="#e1ff17"/>
<rect x="225.05" y="408.28" width="27.35" height="5.57" fill="#ff2d00"/>
<rect x="252.10" y="408.28" width="54.40" height="5.57" fill="#ff0000"/>
<rect x="306.20" y="408.28" width="25.10" height="5.57" fill="#ff2828"/>
<rect x="36.60" y="413.55" width="53.50" height="5.57" fill="#bdff31"/>
<rect x="89.80" y="413.55" width="27.35" height="5.57" fill="#e1ff17"/>
<rect x="116.85" y="413.55" width="27.35" height="5.57" fill="#f3ff09"/>
<rect x="143.90" y="413.55" width="54.40" height="5.57" fill="#e1ff17"/>
<rect x="198.00" y="413.55" width="27.35" height="5.57" fill="#99ff4d"/>
<rect x="225.05" y="413.55" width="27.35" height="5.57" fill="#ff0000"/>
<rect x="252.10" y="413.55" width="27.35" height="5.57" fill="#ff2d00"/>
<rect x="279.15" y="413.55" width="27.35" height="5.57" fill="#ff1616"/>
<rect x="306.20" y="413.55" width="25.10" height="5.57" fill="#ff3a3a"/>
<rect x="36.60" y="418.82" width="26.45" height="5.57" fill="#e1ff17"/>
<rect x="62.75" y="418.82" width="108.50" height="5.57" fill="#f3ff09"/>
<rect x="170.95" y="418.82" width="27.35" height="5.57" fill="#ff4c4c"/>
<rect x="198.00" y="418.82" width="27.35" height="5.57" fill="#ff3a3a"/>
<rect x="225.05" y="418.82" width="54.40" height="5.57" fill="#ff1616"/>
<rect x="279.15" y="418.82" width="27.35" height="5.57" fill="#ff2828"/>
<rect x="306.20" y="418.82" width="25.10" height="5.57" fill="#ff3a3a"/>
<rect x="36.60" y="424.09" width="26.45" height="5.57" fill="#e1ff17"/>
<rect x="62.75" y="424.09" width="135.55" height="5.57" fill="#f3ff09"/>
<rect x="198.00" y="424.09" width="27.35" height="5.57" fill="#e1ff17"/>
<rect x="225.05" y="424.09" width="27.35" height="5.57" fill="#ff0000"/>
<rect x="252.10" y="424.09" width="54.40" height="5.57" fill="#ff2828"/>
<rect x="306.20" y="424.09" width="25.10" height="5.57" fill="#ff3a3a"/>
<rect x="36.60" y="429.36" width="26.45" height="5.57" fill="#e1ff17"/>
<rect x="62.75" y="429.36" width="108.50" height="5.57" fill="#f3ff09"/>
<rect x="170.95" y="429.36" width="27.35" height="5.57" fill="#ffcc00"/>
<rect x="198.00" y="429.36" width="27.35" height="5.57" fill="#ff4c4c"/>
<rect x="225.05" y="429.36" width="27.35" height="5.57" fill="#ff2828"/>
<rect x="252.10" y="429.36" width="27.35" height="5.57" fill="#ff1616"/>
<rect x="279.15" y="429.36" width="52.15" height="5.57" fill="#ff2828"/>
<rect x="36.60" y="434.63" width="26.45" height="5.57" fill="#e1ff17"/>
<rect x="62.75" y="434.63" width="54.40" height="5.57" fill="#f3ff09"/>
<rect x="116.85" y="434.63" width="27.35" height="5.57" fill="#ff5a00"/>
<rect x="143.90" y="434.63" width="27.35" height="5.57" fill="#f3ff09"/>
<rect x="170.95" y="434.63" width="27.35" height="5.57" fill="#ff1616"/>
<rect x="198.00" y="434.63" width="27.35" height="5.57" fill="#ff3a3a"/>
<rect x="225.05" y="434.63" width="106.25" height="5.57" fill="#ff2828"/>
<rect x="36.60" y="439.90" width="26.45" height="5.57" fill="#bdff31"/>
<rect x="62.75" y="439.90" width="54.40" height="5.57" fill="#f3ff09"/>
<rect x="116.85" y="439.90" width="27.35" height="5.57" fill="#ff1616"/>
<rect x="143.90" y="439.90" width="27.35" height="5.57" fill="#f3ff09"/>
<rect x="170.95" y="439.90" width="27.35" height="5.57" fill="#ff3a3a"/>
<rect x="198.00" y="439.90" width="27.35" height="5.57" fill="#ff4c4c"/>
<rect x="225.05" y="439.90" width="27.35" height="5.57" fill="#ff3a3a"/>
<rect x="252.10" y="439.90" width="79.20" height="5.57" fill="#ff2828"/>
<rect x="36.60" y="445.17" width="26.45" height="5.57" fill="#e1ff17"/>
<rect x="62.75" y="445.17" width="81.45" height="5.57" fill="#f3ff09"/>
<rect x="143.90" y="445.17" width="27.35" height="5.57" fill="#ff1616"/>
<rect x="170.95" y="445.17" width="27.35" height="5.57" fill="#ff2828"/>
<rect x="198.00" y="445.17" width="27.35" height="5.57" fill="#ff5f5f"/>
<rect x="225.05" y="445.17" width="27.35" height="5.57" fill="#ff4c4c"/>
<rect x="252.10" y="445.17" width="79.20" height="5.57" fill="#ff3a3a"/>
<rect x="36.60" y="450.44" width="26.45" height="5.57" fill="#e1ff17"/>
<rect x="62.75" y="450.44" width="81.45" height="5.57" fill="#f3ff09"/>
<rect x="143.90" y="450.44" width="27.35" height="5.57" fill="#ffb200"/>
<rect x="170.95" y="450.44" width="27.35" height="5.57" fill="#ff1616"/>
<rect x="198.00" y="450.44" width="27.35" height="5.57" fill="#ff2828"/>
<rect x="225.05" y="450.44" width="27.35" height="5.57" fill="#ff5f5f"/>
<rect x="252.10" y="450.44" width="79.20" height="5.57" fill="#ff3a3a"/>
<rect x="36.60" y="455.71" width="26.45" height="5.57" fill="#99ff4d"/>
<rect x="62.75" y="455.71" width="27.35" height="5.57" fill="#bdff31"/>
<rect x="89.80" y="455.71" width="27.35" height="5.57" fill="#e1ff17"/>
<rect x="116.85" y="455.71" width="81.45" height="5.57" fill="#f3ff09"/>
<rect x="198.00" y="455.71" width="27.35" height="5.57" fill="#ff2828"/>
<rect x="225.05" y="455.71" width="27.35" height="5.57" fill="#ff5f5f"/>
<rect x="252.10" y="455.71" width="27.35" height="5.57" fill="#ff1616"/>
<rect x="279.15" y="455.71" width="52.15" height="5.57" fill="#ff3a3a"/>
<rect x="36.60" y="460.98" width="26.45" height="5.57" fill="#6cff81"/>
<rect x="62.75" y="460.98" width="27.35" height="5.57" fill="#bdff31"/>
<rect x="89.80" y="460.98" width="54.40" height="5.57" fill="#f3ff09"/>
<rect x="143.90" y="460.98" width="27.35" height="5.57" fill="#e1ff17"/>
<rect x="170.95" y="460.98" width="27.35" height="5.57" fill="#f3ff09"/>
<rect x="198.00" y="460.98" width="27.35" height="5.57" fill="#e1ff17"/>
<rect x="225.05" y="460.98" width="27.35" height="5.57" fill="#ff9900"/>
<rect x="252.10" y="460.98" width="27.35" height="5.57" fill="#ff1616"/>
<rect x="279.15" y="460.98" width="27.35" height="5.57" fill="#ff3a3a"/>
<rect x="306.20" y="460.98" width="25.10" height="5.57" fill="#ff2828"/>
<rect x="36.60" y="466.25" width="26.45" height="5.57" fill="#1bffe0"/>
<rect x="62.75" y="466.25" width="27.35" height="5.57" fill="#bdff31"/>
<rect x="89.80" y="466.25" width="27.35" height="5.57" fill="#ffe600"/>
<rect x="116.85" y="466.25" width="81.45" height="5.57" fill="#f3ff09"/>
<rect x="198.00" y="466.25" width="27.35" height="5.57" fill="#e1ff17"/>
<rect x="225.05" y="466.25" width="27.35" height="5.57" fill="#ff2d00"/>
<rect x="252.10" y="466.25" width="27.35" height="5.57" fill="#ff1616"/>
<rect x="279.15" y="466.25" width="27.35" height="5.57" fill="#ff3a3a"/>
<rect x="306.20" y="466.25" width="25.10" height="5.57" fill="#ff2828"/>
<rect x="36.60" y="471.52" width="26.45" height="5.57" fill="#3fffb5"/>
<rect x="62.75" y="471.52" width="27.35" height="5.57" fill="#e1ff17"/>
<rect x="89.80" y="471.52" width="54.40" height="5.57" fill="#ffe600"/>
<rect x="143.90" y="471.52" width="54.40" height="5.57" fill="#f3ff09"/>
<rect x="198.00" y="471.52" width="27.35" height="5.57" fill="#e1ff17"/>
<rect x="225.05" y="471.52" width="27.35" height="5.57" fill="#ff2d00"/>
<rect x="252.10" y="471.52" width="27.35" height="5.57" fill="#ff1616"/>
<rect x="279.15" y="471.52" width="52.15" height="5.57" fill="#ff3a3a"/>
<rect x="36.60" y="476.79" width="26.45" height="5.57" fill="#0040d9"/>
<rect x="62.75" y="476.79" width="27.35" height="5.57" fill="#bdff31"/>
<rect x="89.80" y="476.79" width="54.40" height="5.57" fill="#ffe600"/>
<rect x="143.90" y="476.79" width="54.40" height="5.57" fill="#f3ff09"/>
<rect x="198.00" y="476.79" width="27.35" height="5.57" fill="#ff7e00"/>
<rect x="225.05" y="476.79" width="27.35" height="5.57" fill="#ff2d00"/>
<rect x="252.10" y="476.79" width="27.35" height="5.57" fill="#ff1616"/>
<rect x="279.15" y="476.79" width="27.35" height="5.57" fill="#ff3a3a"/>
<rect x="306.20" y="476.79" width="25.10" height="5.57" fill="#ff4c4c"/>
<rect x="36.60" y="482.06" width="26.45" height="5.57" fill="#00009f"/>
<rect x="62.75" y="482.06" width="27.35" height="5.57" fill="#3fffb5"/>
<rect x="89.80" y="482.06" width="81.45" height="5.57" fill="#ffe600"/>
<rect x="170.95" y="482.06" width="27.35" height="5.57" fill="#f3ff09"/>
<rect x="198.00" y="482.06" width="27.35" height="5.57" fill="#ff9900"/>
<rect x="225.05" y="482.06" width="54.40" height="5.57" fill="#ff1616"/>
<rect x="279.15" y="482.06" width="27.35" height="5.57" fill="#ff4c4c"/>
<rect x="306.20" y="482.06" width="25.10" height="5.57" fill="#ff3a3a"/>
<rect x="36.60" y="487.33" width="26.45" height="5.27" fill="#000072"/>
<rect x="62.75" y="487.33" width="27.35" height="5.27" fill="#00e7fa"/>
<rect x="89.80" y="487.33" width="27.35" height="5.27" fill="#f3ff09"/>
<rect x="116.85" y="487.33" width="81.45" height="5.27" fill="#ffcc00"/>
<rect x="198.00" y="487.33" width="27.35" height="5.27" fill="#ff0000"/>
<rect x="225.05" y="487.33" width="27.35" height="5.27" fill="#ff1616"/>
<rect x="252.10" y="487.33" width="54.40" height="5.27" fill="#ff2828"/>
<rect x="306.20" y="487.33" width="25.10" height="5.27" fill="#ff3a3a"/>
</g>
<rect x="331.30" y="282.20" width="21.00" height="210.40" fill="url(#cb)"/>
<rect x="36.10" y="0.00" width="316.50" height="1.60" fill="#000"/>
<rect x="36.10" y="211.10" width="316.50" height="1.90" fill="#000"/>
<rect x="36.10" y="0.00" width="1.90" height="213.00" fill="#000"/>
<rect x="330.80" y="1.00" width="1.00" height="211.00" fill="#000"/>
<rect x="351.40" y="0.00" width="1.20" height="213.00" fill="#000"/>
<rect x="414.10" y="0.00" width="316.70" height="1.60" fill="#000"/>
<rect x="414.10" y="211.10" width="316.70" height="1.90" fill="#000"/>
<rect x="414.10" y="0.00" width="1.50" height="213.00" fill="#000"/>
<rect x="709.10" y="1.00" width="1.00" height="211.00" fill="#000"/>
<rect x="729.60" y="0.00" width="1.20" height="213.00" fill="#000"/>
<rect x="36.10" y="281.20" width="316.80" height="1.10" fill="#000"/>
<rect x="36.10" y="491.70" width="316.80" height="1.90" fill="#000"/>
<rect x="36.10" y="281.20" width="1.40" height="212.40" fill="#000"/>
<rect x="330.80" y="282.20" width="1.00" height="210.40" fill="#000"/>
<rect x="351.70" y="281.20" width="1.20" height="212.40" fill="#000"/>
<line x1="42.61" y1="212.00" x2="42.61" y2="209.40" stroke="#000" stroke-width="1.00"/>
<line x1="42.61" y1="1.00" x2="42.61" y2="3.60" stroke="#000" stroke-width="1.00"/>
<line x1="74.77" y1="212.00" x2="74.77" y2="209.40" stroke="#000" stroke-width="1.00"/>
<line x1="74.77" y1="1.00" x2="74.77" y2="3.60" stroke="#000" stroke-width="1.00"/>
<line x1="99.71" y1="212.00" x2="99.71" y2="209.40" stroke="#000" stroke-width="1.00"/>
<line x1="99.71" y1="1.00" x2="99.71" y2="3.60" stroke="#000" stroke-width="1.00"/>
<line x1="120.10" y1="212.00" x2="120.10" y2="209.40" stroke="#000" stroke-width="1.00"/>
<line x1="120.10" y1="1.00" x2="120.10" y2="3.60" stroke="#000" stroke-width="1.00"/>
<line x1="137.33" y1="212.00" x2="137.33" y2="209.40" stroke="#000" stroke-width="1.00"/>
<line x1="137.33" y1="1.00" x2="137.33" y2="3.60" stroke="#000" stroke-width="1.00"/>
<line x1="152.26" y1="212.00" x2="152.26" y2="209.40" stroke="#000" stroke-width="1.00"/>
<line x1="152.26" y1="1.00" x2="152.26" y2="3.60" stroke="#000" stroke-width="1.00"/>
<line x1="165.42" y1="212.00" x2="165.42" y2="209.40" stroke="#000" stroke-width="1.00"/>
<line x1="165.42" y1="1.00" x2="165.42" y2="3.60" stroke="#000" stroke-width="1.00"/>
<line x1="177.20" y1="212.00" x2="177.20" y2="207.00" stroke="#000" stroke-width="1.00"/>
<line x1="177.20" y1="1.00" x2="177.20" y2="6.00" stroke="#000" stroke-width="1.00"/>
<line x1="254.69" y1="212.00" x2="254.69" y2="209.40" stroke="#000" stroke-width="1.00"/>
<line x1="254.69" y1="1.00" x2="254.69" y2="3.60" stroke="#000" stroke-width="1.00"/>
<line x1="300.01" y1="212.00" x2="300.01" y2="209.40" stroke="#000" stroke-width="1.00"/>
<line x1="300.01" y1="1.00" x2="300.01" y2="3.60" stroke="#000" stroke-width="1.00"/>
<line x1="37.10" y1="211.30" x2="39.90" y2="211.30" stroke="#000" stroke-width="1.00"/>
<line x1="331.30" y1="211.30" x2="328.50" y2="211.30" stroke="#000" stroke-width="1.00"/>
<line x1="37.10" y1="208.49" x2="39.90" y2="208.49" stroke="#000" stroke-width="1.00"/>
<line x1="331.30" y1="208.49" x2="328.50" y2="208.49" stroke="#000" stroke-width="1.00"/>
<line x1="37.10" y1="206.01" x2="39.90" y2="206.01" stroke="#000" stroke-width="1.00"/>
<line x1="331.30" y1="206.01" x2="328.50" y2="206.01" stroke="#000" stroke-width="1.00"/>
<line x1="37.10" y1="203.80" x2="42.60" y2="203.80" stroke="#000" stroke-width="1.00"/>
<line x1="331.30" y1="203.80" x2="325.80" y2="203.80" stroke="#000" stroke-width="1.00"/>
<line x1="37.10" y1="189.23" x2="39.90" y2="189.23" stroke="#000" stroke-width="1.00"/>
<line x1="331.30" y1="189.23" x2="328.50" y2="189.23" stroke="#000" stroke-width="1.00"/>
<line x1="37.10" y1="180.71" x2="39.90" y2="180.71" stroke="#000" stroke-width="1.00"/>
<line x1="331.30" y1="180.71" x2="328.50" y2="180.71" stroke="#000" stroke-width="1.00"/>
<line x1="37.10" y1="174.66" x2="39.90" y2="174.66" stroke="#000" stroke-width="1.00"/>
<line x1="331.30" y1="174.66" x2="328.50" y2="174.66" stroke="#000" stroke-width="1.00"/>
<line x1="37.10" y1="169.97" x2="39.90" y2="169.97" stroke="#000" stroke-width="1.00"/>
<line x1="331.30" y1="169.97" x2="328.50" y2="169.97" stroke="#000" stroke-width="1.00"/>
<line x1="37.10" y1="166.14" x2="39.90" y2="166.14" stroke="#000" stroke-width="1.00"/>
<line x1="331.30" y1="166.14" x2="328.50" y2="166.14" stroke="#000" stroke-width="1.00"/>
<line x1="37.10" y1="162.90" x2="39.90" y2="162.90" stroke="#000" stroke-width="1.00"/>
<line x1="331.30" y1="162.90" x2="328.50" y2="162.90" stroke="#000" stroke-width="1.00"/>
<line x1="37.10" y1="160.09" x2="39.90" y2="160.09" stroke="#000" stroke-width="1.00"/>
<line x1="331.30" y1="160.09" x2="328.50" y2="160.09" stroke="#000" stroke-width="1.00"/>
<line x1="37.10" y1="157.61" x2="39.90" y2="157.61" stroke="#000" stroke-width="1.00"/>
<line x1="331.30" y1="157.61" x2="328.50" y2="157.61" stroke="#000" stroke-width="1.00"/>
<line x1="37.10" y1="155.40" x2="42.60" y2="155.40" stroke="#000" stroke-width="1.00"/>
<line x1="331.30" y1="155.40" x2="325.80" y2="155.40" stroke="#000" stroke-width="1.00"/>
<line x1="37.10" y1="140.83" x2="39.90" y2="140.83" stroke="#000" stroke-width="1.00"/>
<line x1="331.30" y1="140.83" x2="328.50" y2="140.83" stroke="#000" stroke-width="1.00"/>
<line x1="37.10" y1="132.31" x2="39.90" y2="132.31" stroke="#000" stroke-width="1.00"/>
<line x1="331.30" y1="132.31" x2="328.50" y2="132.31" stroke="#000" stroke-width="1.00"/>
<line x1="37.10" y1="126.26" x2="39.90" y2="126.26" stroke="#000" stroke-width="1.00"/>
<line x1="331.30" y1="126.26" x2="328.50" y2="126.26" stroke="#000" stroke-width="1.00"/>
<line x1="37.10" y1="121.57" x2="39.90" y2="121.57" stroke="#000" stroke-width="1.00"/>
<line x1="331.30" y1="121.57" x2="328.50" y2="121.57" stroke="#000" stroke-width="1.00"/>
<line x1="37.10" y1="117.74" x2="39.90" y2="117.74" stroke="#000" stroke-width="1.00"/>
<line x1="331.30" y1="117.74" x2="328.50" y2="117.74" stroke="#000" stroke-width="1.00"/>
<line x1="37.10" y1="114.50" x2="39.90" y2="114.50" stroke="#000" stroke-width="1.00"/>
<line x1="331.30" y1="114.50" x2="328.50" y2="114.50" stroke="#000" stroke-width="1.00"/>
<line x1="37.10" y1="111.69" x2="39.90" y2="111.69" stroke="#000" stroke-width="1.00"/>
<line x1="331.30" y1="111.69" x2="328.50" y2="111.69" stroke="#000" stroke-width="1.00"/>
<line x1="37.10" y1="109.21" x2="39.90" y2="109.21" stroke="#000" stroke-width="1.00"/>
<line x1="331.30" y1="109.21" x2="328.50" y2="109.21" stroke="#000" stroke-width="1.00"/>
<line x1="37.10" y1="107.00" x2="42.60" y2="107.00" stroke="#000" stroke-width="1.00"/>
<line x1="331.30" y1="107.00" x2="325.80" y2="107.00" stroke="#000" stroke-width="1.00"/>
<line x1="37.10" y1="92.43" x2="39.90" y2="92.43" stroke="#000" stroke-width="1.00"/>
<line x1="331.30" y1="92.43" x2="328.50" y2="92.43" stroke="#000" stroke-width="1.00"/>
<line x1="37.10" y1="83.91" x2="39.90" y2="83.91" stroke="#000" stroke-width="1.00"/>
<line x1="331.30" y1="83.91" x2="328.50" y2="83.91" stroke="#000" stroke-width="1.00"/>
<line x1="37.10" y1="77.86" x2="39.90" y2="77.86" stroke="#000" stroke-width="1.00"/>
<line x1="331.30" y1="77.86" x2="328.50" y2="77.86" stroke="#000" stroke-width="1.00"/>
<line x1="37.10" y1="73.17" x2="39.90" y2="73.17" stroke="#000" stroke-width="1.00"/>
<line x1="331.30" y1="73.17" x2="328.50" y2="73.17" stroke="#000" stroke-width="1.00"/>
<line x1="37.10" y1="69.34" x2="39.90" y2="69.34" stroke="#000" stroke-width="1.00"/>
<line x1="331.30" y1="69.34" x2="328.50" y2="69.34" stroke="#000" stroke-width="1.00"/>
<line x1="37.10" y1="66.10" x2="39.90" y2="66.10" stroke="#000" stroke-width="1.00"/>
<line x1="331.30" y1="66.10" x2="328.50" y2="66.10" stroke="#000" stroke-width="1.00"/>
<line x1="37.10" y1="63.29" x2="39.90" y2="63.29" stroke="#000" stroke-width="1.00"/>
<line x1="331.30" y1="63.29" x2="328.50" y2="63.29" stroke="#000" stroke-width="1.00"/>
<line x1="37.10" y1="60.81" x2="39.90" y2="60.81" stroke="#000" stroke-width="1.00"/>
<line x1="331.30" y1="60.81" x2="328.50" y2="60.81" stroke="#000" stroke-width="1.00"/>
<line x1="37.10" y1="58.60" x2="42.60" y2="58.60" stroke="#000" stroke-width="1.00"/>
<line x1="331.30" y1="58.60" x2="325.80" y2="58.60" stroke="#000" stroke-width="1.00"/>
<line x1="37.10" y1="44.03" x2="39.90" y2="44.03" stroke="#000" stroke-width="1.00"/>
<line x1="331.30" y1="44.03" x2="328.50" y2="44.03" stroke="#000" stroke-width="1.00"/>
<line x1="37.10" y1="35.51" x2="39.90" y2="35.51" stroke="#000" stroke-width="1.00"/>
<line x1="331.30" y1="35.51" x2="328.50" y2="35.51" stroke="#000" stroke-width="1.00"/>
<line x1="37.10" y1="29.46" x2="39.90" y2="29.46" stroke="#000" stroke-width="1.00"/>
<line x1="331.30" y1="29.46" x2="328.50" y2="29.46" stroke="#000" stroke-width="1.00"/>
<line x1="37.10" y1="24.77" x2="39.90" y2="24.77" stroke="#000" stroke-width="1.00"/>
<line x1="331.30" y1="24.77" x2="328.50" y2="24.77" stroke="#000" stroke-width="1.00"/>
<line x1="37.10" y1="20.94" x2="39.90" y2="20.94" stroke="#000" stroke-width="1.00"/>
<line x1="331.30" y1="20.94" x2="328.50" y2="20.94" stroke="#000" stroke-width="1.00"/>
<line x1="37.10" y1="17.70" x2="39.90" y2="17.70" stroke="#000" stroke-width="1.00"/>
<line x1="331.30" y1="17.70" x2="328.50" y2="17.70" stroke="#000" stroke-width="1.00"/>
<line x1="37.10" y1="14.89" x2="39.90" y2="14.89" stroke="#000" stroke-width="1.00"/>
<line x1="331.30" y1="14.89" x2="328.50" y2="14.89" stroke="#000" stroke-width="1.00"/>
<line x1="37.10" y1="12.41" x2="39.90" y2="12.41" stroke="#000" stroke-width="1.00"/>
<line x1="331.30" y1="12.41" x2="328.50" y2="12.41" stroke="#000" stroke-width="1.00"/>
<line x1="37.10" y1="10.20" x2="42.60" y2="10.20" stroke="#000" stroke-width="1.00"/>
<line x1="331.30" y1="10.20" x2="325.80" y2="10.20" stroke="#000" stroke-width="1.00"/>
<line x1="420.91" y1="212.00" x2="420.91" y2="209.40" stroke="#000" stroke-width="1.00"/>
<line x1="420.91" y1="1.00" x2="420.91" y2="3.60" stroke="#000" stroke-width="1.00"/>
<line x1="453.07" y1="212.00" x2="453.07" y2="209.40" stroke="#000" stroke-width="1.00"/>
<line x1="453.07" y1="1.00" x2="453.07" y2="3.60" stroke="#000" stroke-width="1.00"/>
<line x1="478.01" y1="212.00" x2="478.01" y2="209.40" stroke="#000" stroke-width="1.00"/>
<line x1="478.01" y1="1.00" x2="478.01" y2="3.60" stroke="#000" stroke-width="1.00"/>
<line x1="498.40" y1="212.00" x2="498.40" y2="209.40" stroke="#000" stroke-width="1.00"/>
<line x1="498.40" y1="1.00" x2="498.40" y2="3.60" stroke="#000" stroke-width="1.00"/>
<line x1="515.63" y1="212.00" x2="515.63" y2="209.40" stroke="#000" stroke-width="1.00"/>
<line x1="515.63" y1="1.00" x2="515.63" y2="3.60" stroke="#000" stroke-width="1.00"/>
<line x1="530.56" y1="212.00" x2="530.56" y2="209.40" stroke="#000" stroke-width="1.00"/>
<line x1="530.56" y1="1.00" x2="530.56" y2="3.60" stroke="#000" stroke-width="1.00"/>
<line x1="543.72" y1="212.00" x2="543.72" y2="209.40" stroke="#000" stroke-width="1.00"/>
<line x1="543.72" y1="1.00" x2="543.72" y2="3.60" stroke="#000" stroke-width="1.00"/>
<line x1="555.50" y1="212.00" x2="555.50" y2="207.00" stroke="#000" stroke-width="1.00"/>
<line x1="555.50" y1="1.00" x2="555.50" y2="6.00" stroke="#000" stroke-width="1.00"/>
<line x1="632.99" y1="212.00" x2="632.99" y2="209.40" stroke="#000" stroke-width="1.00"/>
<line x1="632.99" y1="1.00" x2="632.99" y2="3.60" stroke="#000" stroke-width="1.00"/>
<line x1="678.31" y1="212.00" x2="678.31" y2="209.40" stroke="#000" stroke-width="1.00"/>
<line x1="678.31" y1="1.00" x2="678.31" y2="3.60" stroke="#000" stroke-width="1.00"/>
<line x1="415.10" y1="208.30" x2="420.60" y2="208.30" stroke="#000" stroke-width="1.00"/>
<line x1="709.60" y1="208.30" x2="704.10" y2="208.30" stroke="#000" stroke-width="1.00"/>
<line x1="415.10" y1="175.00" x2="417.90" y2="175.00" stroke="#000" stroke-width="1.00"/>
<line x1="709.60" y1="175.00" x2="706.80" y2="175.00" stroke="#000" stroke-width="1.00"/>
<line x1="415.10" y1="141.70" x2="420.60" y2="141.70" stroke="#000" stroke-width="1.00"/>
<line x1="709.60" y1="141.70" x2="704.10" y2="141.70" stroke="#000" stroke-width="1.00"/>
<line x1="415.10" y1="108.40" x2="417.90" y2="108.40" stroke="#000" stroke-width="1.00"/>
<line x1="709.60" y1="108.40" x2="706.80" y2="108.40" stroke="#000" stroke-width="1.00"/>
<line x1="415.10" y1="75.10" x2="420.60" y2="75.10" stroke="#000" stroke-width="1.00"/>
<line x1="709.60" y1="75.10" x2="704.10" y2="75.10" stroke="#000" stroke-width="1.00"/>
<line x1="415.10" y1="41.80" x2="417.90" y2="41.80" stroke="#000" stroke-width="1.00"/>
<line x1="709.60" y1="41.80" x2="706.80" y2="41.80" stroke="#000" stroke-width="1.00"/>
<line x1="415.10" y1="8.50" x2="420.60" y2="8.50" stroke="#000" stroke-width="1.00"/>
<line x1="709.60" y1="8.50" x2="704.10" y2="8.50" stroke="#000" stroke-width="1.00"/>
<line x1="38.63" y1="492.60" x2="38.63" y2="490.00" stroke="#000" stroke-width="1.00"/>
<line x1="38.63" y1="282.20" x2="38.63" y2="284.80" stroke="#000" stroke-width="1.00"/>
<line x1="42.55" y1="492.60" x2="42.55" y2="490.00" stroke="#000" stroke-width="1.00"/>
<line x1="42.55" y1="282.20" x2="42.55" y2="284.80" stroke="#000" stroke-width="1.00"/>
<line x1="46.01" y1="492.60" x2="46.01" y2="490.00" stroke="#000" stroke-width="1.00"/>
<line x1="46.01" y1="282.20" x2="46.01" y2="284.80" stroke="#000" stroke-width="1.00"/>
<line x1="49.10" y1="492.60" x2="49.10" y2="487.60" stroke="#000" stroke-width="1.00"/>
<line x1="49.10" y1="282.20" x2="49.10" y2="287.20" stroke="#000" stroke-width="1.00"/>
<line x1="69.45" y1="492.60" x2="69.45" y2="490.00" stroke="#000" stroke-width="1.00"/>
<line x1="69.45" y1="282.20" x2="69.45" y2="284.80" stroke="#000" stroke-width="1.00"/>
<line x1="81.35" y1="492.60" x2="81.35" y2="490.00" stroke="#000" stroke-width="1.00"/>
<line x1="81.35" y1="282.20" x2="81.35" y2="284.80" stroke="#000" stroke-width="1.00"/>
<line x1="89.80" y1="492.60" x2="89.80" y2="490.00" stroke="#000" stroke-width="1.00"/>
<line x1="89.80" y1="282.20" x2="89.80" y2="284.80" stroke="#000" stroke-width="1.00"/>
<line x1="96.35" y1="492.60" x2="96.35" y2="490.00" stroke="#000" stroke-width="1.00"/>
<line x1="96.35" y1="282.20" x2="96.35" y2="284.80" stroke="#000" stroke-width="1.00"/>
<line x1="101.70" y1="492.60" x2="101.70" y2="490.00" stroke="#000" stroke-width="1.00"/>
<line x1="101.70" y1="282.20" x2="101.70" y2="284.80" stroke="#000" stroke-width="1.00"/>
<line x1="106.23" y1="492.60" x2="106.23" y2="490.00" stroke="#000" stroke-width="1.00"/>
<line x1="106.23" y1="282.20" x2="106.23" y2="284.80" stroke="#000" stroke-width="1.00"/>
<line x1="110.15" y1="492.60" x2="110.15" y2="490.00" stroke="#000" stroke-width="1.00"/>
<line x1="110.15" y1="282.20" x2="110.15" y2="284.80" stroke="#000" stroke-width="1.00"/>
<line x1="113.61" y1="492.60" x2="113.61" y2="490.00" stroke="#000" stroke-width="1.00"/>
<line x1="113.61" y1="282.20" x2="113.61" y2="284.80" stroke="#000" stroke-width="1.00"/>
<line x1="116.70" y1="492.60" x2="116.70" y2="487.60" stroke="#000" stroke-width="1.00"/>
<line x1="116.70" y1="282.20" x2="116.70" y2="287.20" stroke="#000" stroke-width="1.00"/>
<line x1="137.05" y1="492.60" x2="137.05" y2="490.00" stroke="#000" stroke-width="1.00"/>
<line x1="137.05" y1="282.20" x2="137.05" y2="284.80" stroke="#000" stroke-width="1.00"/>
<line x1="148.95" y1="492.60" x2="148.95" y2="490.00" stroke="#000" stroke-width="1.00"/>
<line x1="148.95" y1="282.20" x2="148.95" y2="284.80" stroke="#000" stroke-width="1.00"/>
<line x1="157.40" y1="492.60" x2="157.40" y2="490.00" stroke="#000" stroke-width="1.00"/>
<line x1="157.40" y1="282.20" x2="157.40" y2="284.80" stroke="#000" stroke-width="1.00"/>
<line x1="163.95" y1="492.60" x2="163.95" y2="490.00" stroke="#000" stroke-width="1.00"/>
<line x1="163.95" y1="282.20" x2="163.95" y2="284.80" stroke="#000" stroke-width="1.00"/>
<line x1="169.30" y1="492.60" x2="169.30" y2="490.00" stroke="#000" stroke-width="1.00"/>
<line x1="169.30" y1="282.20" x2="169.30" y2="284.80" stroke="#000" stroke-width="1.00"/>
<line x1="173.83" y1="492.60" x2="173.83" y2="490.00" stroke="#000" stroke-width="1.00"/>
<line x1="173.83" y1="282.20" x2="173.83" y2="284.80" stroke="#000" stroke-width="1.00"/>
<line x1="177.75" y1="492.60" x2="177.75" y2="490.00" stroke="#000" stroke-width="1.00"/>
<line x1="177.75" y1="282.20" x2="177.75" y2="284.80" stroke="#000" stroke-width="1.00"/>
<line x1="181.21" y1="492.60" x2="181.21" y2="490.00" stroke="#000" stroke-width="1.00"/>
<line x1="181.21" y1="282.20" x2="181.21" y2="284.80" stroke="#000" stroke-width="1.00"/>
<line x1="184.30" y1="492.60" x2="184.30" y2="487.60" stroke="#000" stroke-width="1.00"/>
<line x1="184.30" y1="282.20" x2="184.30" y2="287.20" stroke="#000" stroke-width="1.00"/>
<line x1="204.65" y1="492.60" x2="204.65" y2="490.00" stroke="#000" stroke-width="1.00"/>
<line x1="204.65" y1="282.20" x2="204.65" y2="284.80" stroke="#000" stroke-width="1.00"/>
<line x1="216.55" y1="492.60" x2="216.55" y2="490.00" stroke="#000" stroke-width="1.00"/>
<line x1="216.55" y1="282.20" x2="216.55" y2="284.80" stroke="#000" stroke-width="1.00"/>
<line x1="225.00" y1="492.60" x2="225.00" y2="490.00" stroke="#000" stroke-width="1.00"/>
<line x1="225.00" y1="282.20" x2="225.00" y2="284.80" stroke="#000" stroke-width="1.00"/>
<line x1="231.55" y1="492.60" x2="231.55" y2="490.00" stroke="#000" stroke-width="1.00"/>
<line x1="231.55" y1="282.20" x2="231.55" y2="284.80" stroke="#000" stroke-width="1.00"/>
<line x1="236.90" y1="492.60" x2="236.90" y2="490.00" stroke="#000" stroke-width="1.00"/>
<line x1="236.90" y1="282.20" x2="236.90" y2="284.80" stroke="#000" stroke-width="1.00"/>
<line x1="241.43" y1="492.60" x2="241.43" y2="490.00" stroke="#000" stroke-width="1.00"/>
<line x1="241.43" y1="282.20" x2="241.43" y2="284.80" stroke="#000" stroke-width="1.00"/>
<line x1="245.35" y1="492.60" x2="245.35" y2="490.00" stroke="#000" stroke-width="1.00"/>
<line x1="245.35" y1="282.20" x2="245.35" y2="284.80" stroke="#000" stroke-width="1.00"/>
<line x1="248.81" y1="492.60" x2="248.81" y2="490.00" stroke="#000" stroke-width="1.00"/>
<line x1="248.81" y1="282.20" x2="248.81" y2="284.80" stroke="#000" stroke-width="1.00"/>
<line x1="251.90" y1="492.60" x2="251.90" y2="487.60" stroke="#000" stroke-width="1.00"/>
<line x1="251.90" y1="282.20" x2="251.90" y2="287.20" stroke="#000" stroke-width="1.00"/>
<line x1="272.25" y1="492.60" x2="272.25" y2="490.00" stroke="#000" stroke-width="1.00"/>
<line x1="272.25" y1="282.20" x2="272.25" y2="284.80" stroke="#000" stroke-width="1.00"/>
<line x1="284.15" y1="492.60" x2="284.15" y2="490.00" stroke="#000" stroke-width="1.00"/>
<line x1="284.15" y1="282.20" x2="284.15" y2="284.80" stroke="#000" stroke-width="1.00"/>
<line x1="292.60" y1="492.60" x2="292.60" y2="490.00" stroke="#000" stroke-width="1.00"/>
<line x1="292.60" y1="282.20" x2="292.60" y2="284.80" stroke="#000" stroke-width="1.00"/>
<line x1="299.15" y1="492.60" x2="299.15" y2="490.00" stroke="#000" stroke-width="1.00"/>
<line x1="299.15" y1="282.20" x2="299.15" y2="284.80" stroke="#000" stroke-width="1.00"/>
<line x1="304.50" y1="492.60" x2="304.50" y2="490.00" stroke="#000" stroke-width="1.00"/>
<line x1="304.50" y1="282.20" x2="304.50" y2="284.80" stroke="#000" stroke-width="1.00"/>
<line x1="309.03" y1="492.60" x2="309.03" y2="490.00" stroke="#000" stroke-width="1.00"/>
<line x1="309.03" y1="282.20" x2="309.03" y2="284.80" stroke="#000" stroke-width="1.00"/>
<line x1="312.95" y1="492.60" x2="312.95" y2="490.00" stroke="#000" stroke-width="1.00"/>
<line x1="312.95" y1="282.20" x2="312.95" y2="284.80" stroke="#000" stroke-width="1.00"/>
<line x1="316.41" y1="492.60" x2="316.41" y2="490.00" stroke="#000" stroke-width="1.00"/>
<line x1="316.41" y1="282.20" x2="316.41" y2="284.80" stroke="#000" stroke-width="1.00"/>
<line x1="319.50" y1="492.60" x2="319.50" y2="487.60" stroke="#000" stroke-width="1.00"/>
<line x1="319.50" y1="282.20" x2="319.50" y2="287.20" stroke="#000" stroke-width="1.00"/>
<line x1="37.10" y1="488.60" x2="42.60" y2="488.60" stroke="#000" stroke-width="1.00"/>
<line x1="331.30" y1="488.60" x2="325.80" y2="488.60" stroke="#000" stroke-width="1.00"/>
<line x1="37.10" y1="455.40" x2="39.90" y2="455.40" stroke="#000" stroke-width="1.00"/>
<line x1="331.30" y1="455.40" x2="328.50" y2="455.40" stroke="#000" stroke-width="1.00"/>
<line x1="37.10" y1="422.20" x2="42.60" y2="422.20" stroke="#000" stroke-width="1.00"/>
<line x1="331.30" y1="422.20" x2="325.80" y2="422.20" stroke="#000" stroke-width="1.00"/>
<line x1="37.10" y1="389.00" x2="39.90" y2="389.00" stroke="#000" stroke-width="1.00"/>
<line x1="331.30" y1="389.00" x2="328.50" y2="389.00" stroke="#000" stroke-width="1.00"/>
<line x1="37.10" y1="355.80" x2="42.60" y2="355.80" stroke="#000" stroke-width="1.00"/>
<line x1="331.30" y1="355.80" x2="325.80" y2="355.80" stroke="#000" stroke-width="1.00"/>
<line x1="37.10" y1="322.60" x2="39.90" y2="322.60" stroke="#000" stroke-width="1.00"/>
<line x1="331.30" y1="322.60" x2="328.50" y2="322.60" stroke="#000" stroke-width="1.00"/>
<line x1="37.10" y1="289.40" x2="42.60" y2="289.40" stroke="#000" stroke-width="1.00"/>
<line x1="331.30" y1="289.40" x2="325.80" y2="289.40" stroke="#000" stroke-width="1.00"/>
<line x1="331.30" y1="14.30" x2="334.30" y2="14.30" stroke="#222" stroke-width="0.90"/>
<line x1="352.00" y1="14.30" x2="349.00" y2="14.30" stroke="#222" stroke-width="0.90"/>
<line x1="331.30" y1="29.35" x2="334.30" y2="29.35" stroke="#222" stroke-width="0.90"/>
<line x1="352.00" y1="29.35" x2="349.00" y2="29.35" stroke="#222" stroke-width="0.90"/>
<line x1="331.30" y1="44.40" x2="334.30" y2="44.40" stroke="#222" stroke-width="0.90"/>
<line x1="352.00" y1="44.40" x2="349.00" y2="44.40" stroke="#222" stroke-width="0.90"/>
<line x1="331.30" y1="59.45" x2="334.30" y2="59.45" stroke="#222" stroke-width="0.90"/>
<line x1="352.00" y1="59.45" x2="349.00" y2="59.45" stroke="#222" stroke-width="0.90"/>
<line x1="331.30" y1="74.50" x2="334.30" y2="74.50" stroke="#222" stroke-width="0.90"/>
<line x1="352.00" y1="74.50" x2="349.00" y2="74.50" stroke="#222" stroke-width="0.90"/>
<line x1="331.30" y1="89.55" x2="334.30" y2="89.55" stroke="#222" stroke-width="0.90"/>
<line x1="352.00" y1="89.55" x2="349.00" y2="89.55" stroke="#222" stroke-width="0.90"/>
<line x1="331.30" y1="104.60" x2="334.30" y2="104.60" stroke="#222" stroke-width="0.90"/>
<line x1="352.00" y1="104.60" x2="349.00" y2="104.60" stroke="#222" stroke-width="0.90"/>
<line x1="331.30" y1="119.65" x2="334.30" y2="119.65" stroke="#222" stroke-width="0.90"/>
<line x1="352.00" y1="119.65" x2="349.00" y2="119.65" stroke="#222" stroke-width="0.90"/>
<line x1="331.30" y1="134.70" x2="334.30" y2="134.70" stroke="#222" stroke-width="0.90"/>
<line x1="352.00" y1="134.70" x2="349.00" y2="134.70" stroke="#222" stroke-width="0.90"/>
<line x1="331.30" y1="149.75" x2="334.30" y2="149.75" stroke="#222" stroke-width="0.90"/>
<line x1="352.00" y1="149.75" x2="349.00" y2="149.75" stroke="#222" stroke-width="0.90"/>
<line x1="331.30" y1="164.80" x2="334.30" y2="164.80" stroke="#222" stroke-width="0.90"/>
<line x1="352.00" y1="164.80" x2="349.00" y2="164.80" stroke="#222" stroke-width="0.90"/>
<line x1="331.30" y1="179.85" x2="334.30" y2="179.85" stroke="#222" stroke-width="0.90"/>
<line x1="352.00" y1="179.85" x2="349.00" y2="179.85" stroke="#222" stroke-width="0.90"/>
<line x1="331.30" y1="194.90" x2="334.30" y2="194.90" stroke="#222" stroke-width="0.90"/>
<line x1="352.00" y1="194.90" x2="349.00" y2="194.90" stroke="#222" stroke-width="0.90"/>
<line x1="331.30" y1="209.95" x2="334.30" y2="209.95" stroke="#222" stroke-width="0.90"/>
<line x1="352.00" y1="209.95" x2="349.00" y2="209.95" stroke="#222" stroke-width="0.90"/>
<line x1="709.60" y1="14.50" x2="712.60" y2="14.50" stroke="#222" stroke-width="0.90"/>
<line x1="730.20" y1="14.50" x2="727.20" y2="14.50" stroke="#222" stroke-width="0.90"/>
<line x1="709.60" y1="39.15" x2="712.60" y2="39.15" stroke="#222" stroke-width="0.90"/>
<line x1="730.20" y1="39.15" x2="727.20" y2="39.15" stroke="#222" stroke-width="0.90"/>
<line x1="709.60" y1="63.80" x2="712.60" y2="63.80" stroke="#222" stroke-width="0.90"/>
<line x1="730.20" y1="63.80" x2="727.20" y2="63.80" stroke="#222" stroke-width="0.90"/>
<line x1="709.60" y1="88.45" x2="712.60" y2="88.45" stroke="#222" stroke-width="0.90"/>
<line x1="730.20" y1="88.45" x2="727.20" y2="88.45" stroke="#222" stroke-width="0.90"/>
<line x1="709.60" y1="113.10" x2="712.60" y2="113.10" stroke="#222" stroke-width="0.90"/>
<line x1="730.20" y1="113.10" x2="727.20" y2="113.10" stroke="#222" stroke-width="0.90"/>
<line x1="709.60" y1="137.75" x2="712.60" y2="137.75" stroke="#222" stroke-width="0.90"/>
<line x1="730.20" y1="137.75" x2="727.20" y2="137.75" stroke="#222" stroke-width="0.90"/>
<line x1="709.60" y1="162.40" x2="712.60" y2="162.40" stroke="#222" stroke-width="0.90"/>
<line x1="730.20" y1="162.40" x2="727.20" y2="162.40" stroke="#222" stroke-width="0.90"/>
<line x1="709.60" y1="187.05" x2="712.60" y2="187.05" stroke="#222" stroke-width="0.90"/>
<line x1="730.20" y1="187.05" x2="727.20" y2="187.05" stroke="#222" stroke-width="0.90"/>
<line x1="331.30" y1="300.90" x2="334.30" y2="300.90" stroke="#222" stroke-width="0.90"/>
<line x1="352.30" y1="300.90" x2="349.30" y2="300.90" stroke="#222" stroke-width="0.90"/>
<line x1="331.30" y1="318.30" x2="334.30" y2="318.30" stroke="#222" stroke-width="0.90"/>
<line x1="352.30" y1="318.30" x2="349.30" y2="318.30" stroke="#222" stroke-width="0.90"/>
<line x1="331.30" y1="335.70" x2="334.30" y2="335.70" stroke="#222" stroke-width="0.90"/>
<line x1="352.30" y1="335.70" x2="349.30" y2="335.70" stroke="#222" stroke-width="0.90"/>
<line x1="331.30" y1="353.10" x2="334.30" y2="353.10" stroke="#222" stroke-width="0.90"/>
<line x1="352.30" y1="353.10" x2="349.30" y2="353.10" stroke="#222" stroke-width="0.90"/>
<line x1="331.30" y1="370.50" x2="334.30" y2="370.50" stroke="#222" stroke-width="0.90"/>
<line x1="352.30" y1="370.50" x2="349.30" y2="370.50" stroke="#222" stroke-width="0.90"/>
<line x1="331.30" y1="387.90" x2="334.30" y2="387.90" stroke="#222" stroke-width="0.90"/>
<line x1="352.30" y1="387.90" x2="349.30" y2="387.90" stroke="#222" stroke-width="0.90"/>
<line x1="331.30" y1="405.30" x2="334.30" y2="405.30" stroke="#222" stroke-width="0.90"/>
<line x1="352.30" y1="405.30" x2="349.30" y2="405.30" stroke="#222" stroke-width="0.90"/>
<line x1="331.30" y1="422.70" x2="334.30" y2="422.70" stroke="#222" stroke-width="0.90"/>
<line x1="352.30" y1="422.70" x2="349.30" y2="422.70" stroke="#222" stroke-width="0.90"/>
<line x1="331.30" y1="440.10" x2="334.30" y2="440.10" stroke="#222" stroke-width="0.90"/>
<line x1="352.30" y1="440.10" x2="349.30" y2="440.10" stroke="#222" stroke-width="0.90"/>
<line x1="331.30" y1="457.50" x2="334.30" y2="457.50" stroke="#222" stroke-width="0.90"/>
<line x1="352.30" y1="457.50" x2="349.30" y2="457.50" stroke="#222" stroke-width="0.90"/>
<line x1="331.30" y1="474.90" x2="334.30" y2="474.90" stroke="#222" stroke-width="0.90"/>
<line x1="352.30" y1="474.90" x2="349.30" y2="474.90" stroke="#222" stroke-width="0.90"/>
<circle cx="247.10" cy="50.60" r="4.90" fill="#000"/>
<circle cx="625.00" cy="178.30" r="4.90" fill="#000"/>
<circle cx="262.50" cy="459.10" r="4.90" fill="#000"/>
<text transform="translate(29.00 9.90) rotate(-90) scale(0.970 1)" font-family="Liberation Serif, serif" font-weight="bold" font-size="14.4" text-anchor="middle" stroke="#000" stroke-width="0.3">1</text>
<text transform="translate(29.00 58.30) rotate(-90) scale(0.970 1)" font-family="Liberation Serif, serif" font-weight="bold" font-size="14.4" text-anchor="middle" stroke="#000" stroke-width="0.3">0.1</text>
<text transform="translate(29.00 106.70) rotate(-90) scale(0.970 1)" font-family="Liberation Serif, serif" font-weight="bold" font-size="14.4" text-anchor="middle" stroke="#000" stroke-width="0.3">0.01</text>
<text transform="translate(29.00 153.20) rotate(-90) scale(0.970 1)" font-family="Liberation Serif, serif" font-weight="bold" font-size="14.4" text-anchor="middle" stroke="#000" stroke-width="0.3">10<tspan dy="-7.2" font-size="11.5">−3</tspan></text>
<text transform="translate(29.00 201.60) rotate(-90) scale(0.970 1)" font-family="Liberation Serif, serif" font-weight="bold" font-size="14.4" text-anchor="middle" stroke="#000" stroke-width="0.3">10<tspan dy="-7.2" font-size="11.5">−4</tspan></text>
<text transform="translate(8.30 105.80) rotate(-90) scale(0.970 1)" font-family="Liberation Serif, serif" font-weight="bold" font-size="14.4" text-anchor="middle" stroke="#000" stroke-width="0.3">q</text>
<text transform="translate(99.71 227.60) scale(1.200 1)" font-family="Liberation Serif, serif" font-weight="bold" font-size="12.7" text-anchor="middle" stroke="#000" stroke-width="0.3">0.5</text>
<text transform="translate(177.20 227.60) scale(1.200 1)" font-family="Liberation Serif, serif" font-weight="bold" font-size="12.7" text-anchor="middle" stroke="#000" stroke-width="0.3">1</text>
<text transform="translate(254.69 227.60) scale(1.200 1)" font-family="Liberation Serif, serif" font-weight="bold" font-size="12.7" text-anchor="middle" stroke="#000" stroke-width="0.3">2</text>
<text transform="translate(184.50 251.80) scale(1.200 1)" font-family="Liberation Serif, serif" font-weight="bold" font-size="12.7" text-anchor="middle" stroke="#000" stroke-width="0.3">s (R<tspan dy="3.5" font-size="8.5">E</tspan><tspan dy="-3.5">)</tspan></text>
<text transform="translate(404.50 208.30) rotate(-90) scale(0.970 1)" font-family="Liberation Serif, serif" font-weight="bold" font-size="14.4" text-anchor="middle" stroke="#000" stroke-width="0.3">0</text>
<text transform="translate(404.50 141.70) rotate(-90) scale(0.970 1)" font-family="Liberation Serif, serif" font-weight="bold" font-size="14.4" text-anchor="middle" stroke="#000" stroke-width="0.3">2</text>
<text transform="translate(404.50 75.10) rotate(-90) scale(0.970 1)" font-family="Liberation Serif, serif" font-weight="bold" font-size="14.4" text-anchor="middle" stroke="#000" stroke-width="0.3">4</text>
<text transform="translate(404.50 8.50) rotate(-90) scale(0.970 1)" font-family="Liberation Serif, serif" font-weight="bold" font-size="14.4" text-anchor="middle" stroke="#000" stroke-width="0.3">6</text>
<text transform="translate(389.00 106.00) rotate(-90) scale(0.970 1)" font-family="Liberation Serif, serif" font-weight="bold" font-size="14.4" text-anchor="middle" stroke="#000" stroke-width="0.3" font-style="italic">θ</text>
<text transform="translate(478.01 227.60) scale(1.200 1)" font-family="Liberation Serif, serif" font-weight="bold" font-size="12.7" text-anchor="middle" stroke="#000" stroke-width="0.3">0.5</text>
<text transform="translate(555.50 227.60) scale(1.200 1)" font-family="Liberation Serif, serif" font-weight="bold" font-size="12.7" text-anchor="middle" stroke="#000" stroke-width="0.3">1</text>
<text transform="translate(632.99 227.60) scale(1.200 1)" font-family="Liberation Serif, serif" font-weight="bold" font-size="12.7" text-anchor="middle" stroke="#000" stroke-width="0.3">2</text>
<text transform="translate(563.00 251.80) scale(1.200 1)" font-family="Liberation Serif, serif" font-weight="bold" font-size="12.7" text-anchor="middle" stroke="#000" stroke-width="0.3">s (R<tspan dy="3.5" font-size="8.5">E</tspan><tspan dy="-3.5">)</tspan></text>
<text transform="translate(29.20 488.60) rotate(-90) scale(0.970 1)" font-family="Liberation Serif, serif" font-weight="bold" font-size="14.4" text-anchor="middle" stroke="#000" stroke-width="0.3">0</text>
<text transform="translate(29.20 422.20) rotate(-90) scale(0.970 1)" font-family="Liberation Serif, serif" font-weight="bold" font-size="14.4" text-anchor="middle" stroke="#000" stroke-width="0.3">2</text>
<text transform="translate(29.20 355.80) rotate(-90) scale(0.970 1)" font-family="Liberation Serif, serif" font-weight="bold" font-size="14.4" text-anchor="middle" stroke="#000" stroke-width="0.3">4</text>
<text transform="translate(29.20 289.40) rotate(-90) scale(0.970 1)" font-family="Liberation Serif, serif" font-weight="bold" font-size="14.4" text-anchor="middle" stroke="#000" stroke-width="0.3">6</text>
<text transform="translate(10.00 387.20) rotate(-90) scale(0.970 1)" font-family="Liberation Serif, serif" font-weight="bold" font-size="14.4" text-anchor="middle" stroke="#000" stroke-width="0.3" font-style="italic">θ</text>
<text transform="translate(50.60 508.80) scale(1.200 1)" font-family="Liberation Serif, serif" font-weight="bold" font-size="12.7" text-anchor="middle" stroke="#000" stroke-width="0.3">10<tspan dy="-6.3" font-size="10.2">−4</tspan></text>
<text transform="translate(118.20 508.80) scale(1.200 1)" font-family="Liberation Serif, serif" font-weight="bold" font-size="12.7" text-anchor="middle" stroke="#000" stroke-width="0.3">10<tspan dy="-6.3" font-size="10.2">−3</tspan></text>
<text transform="translate(184.30 508.80) scale(1.200 1)" font-family="Liberation Serif, serif" font-weight="bold" font-size="12.7" text-anchor="middle" stroke="#000" stroke-width="0.3">0.01</text>
<text transform="translate(251.90 508.80) scale(1.200 1)" font-family="Liberation Serif, serif" font-weight="bold" font-size="12.7" text-anchor="middle" stroke="#000" stroke-width="0.3">0.1</text>
<text transform="translate(319.50 508.80) scale(1.200 1)" font-family="Liberation Serif, serif" font-weight="bold" font-size="12.7" text-anchor="middle" stroke="#000" stroke-width="0.3">1</text>
<text transform="translate(185.00 533.20) scale(1.200 1)" font-family="Liberation Serif, serif" font-weight="bold" font-size="12.7" text-anchor="middle" stroke="#000" stroke-width="0.3">q</text>
<text transform="translate(364.20 181.00) rotate(-90) scale(1.070 1)" font-family="Liberation Serif, serif" font-weight="bold" font-size="10.9" text-anchor="middle" stroke="#000" stroke-width="0.3">2.25×10<tspan dy="-5.5" font-size="8.7">4</tspan></text>
<text transform="translate(364.20 104.50) rotate(-90) scale(1.070 1)" font-family="Liberation Serif, serif" font-weight="bold" font-size="10.9" text-anchor="middle" stroke="#000" stroke-width="0.3">2.3×10<tspan dy="-5.5" font-size="8.7">4</tspan></text>
<text transform="translate(364.20 30.00) rotate(-90) scale(1.070 1)" font-family="Liberation Serif, serif" font-weight="bold" font-size="10.9" text-anchor="middle" stroke="#000" stroke-width="0.3">2.35×10<tspan dy="-5.5" font-size="8.7">4</tspan></text>
<text transform="translate(742.30 185.50) rotate(-90) scale(1.070 1)" font-family="Liberation Serif, serif" font-weight="bold" font-size="10.9" text-anchor="middle" stroke="#000" stroke-width="0.3">2.24×10<tspan dy="-5.5" font-size="8.7">4</tspan></text>
<text transform="translate(742.30 136.00) rotate(-90) scale(1.070 1)" font-family="Liberation Serif, serif" font-weight="bold" font-size="10.9" text-anchor="middle" stroke="#000" stroke-width="0.3">2.26×10<tspan dy="-5.5" font-size="8.7">4</tspan></text>
<text transform="translate(742.30 87.00) rotate(-90) scale(1.070 1)" font-family="Liberation Serif, serif" font-weight="bold" font-size="10.9" text-anchor="middle" stroke="#000" stroke-width="0.3">2.28×10<tspan dy="-5.5" font-size="8.7">4</tspan></text>
<text transform="translate(742.30 38.50) rotate(-90) scale(1.070 1)" font-family="Liberation Serif, serif" font-weight="bold" font-size="10.9" text-anchor="middle" stroke="#000" stroke-width="0.3">2.3×10<tspan dy="-5.5" font-size="8.7">4</tspan></text>
<text transform="translate(364.20 457.50) rotate(-90) scale(1.070 1)" font-family="Liberation Serif, serif" font-weight="bold" font-size="10.9" text-anchor="middle" stroke="#000" stroke-width="0.3">2.25×10<tspan dy="-5.5" font-size="8.7">4</tspan></text>
<text transform="translate(364.20 370.00) rotate(-90) scale(1.070 1)" font-family="Liberation Serif, serif" font-weight="bold" font-size="10.9" text-anchor="middle" stroke="#000" stroke-width="0.3">2.3×10<tspan dy="-5.5" font-size="8.7">4</tspan></text>
<text transform="translate(364.20 283.50) rotate(-90) scale(1.070 1)" font-family="Liberation Serif, serif" font-weight="bold" font-size="10.9" text-anchor="middle" stroke="#000" stroke-width="0.3">2.35×10<tspan dy="-5.5" font-size="8.7">4</tspan></text>
<text transform="translate(374.20 12.50) rotate(-90) scale(1.100 1)" font-family="Liberation Serif, serif" font-weight="bold" font-size="12.0" text-anchor="middle" stroke="#000" stroke-width="0.3">χ</text>
<text transform="translate(368.70 2.20) rotate(-90) scale(1.100 1)" font-family="Liberation Serif, serif" font-weight="bold" font-size="8.5" text-anchor="middle" stroke="#000" stroke-width="0.3">2</text>
<text transform="translate(752.50 12.50) rotate(-90) scale(1.100 1)" font-family="Liberation Serif, serif" font-weight="bold" font-size="12.0" text-anchor="middle" stroke="#000" stroke-width="0.3">χ</text>
<text transform="translate(747.00 2.20) rotate(-90) scale(1.100 1)" font-family="Liberation Serif, serif" font-weight="bold" font-size="8.5" text-anchor="middle" stroke="#000" stroke-width="0.3">2</text>
<text transform="translate(374.20 293.80) rotate(-90) scale(1.100 1)" font-family="Liberation Serif, serif" font-weight="bold" font-size="12.0" text-anchor="middle" stroke="#000" stroke-width="0.3">χ</text>
<text transform="translate(368.70 283.50) rotate(-90) scale(1.100 1)" font-family="Liberation Serif, serif" font-weight="bold" font-size="8.5" text-anchor="middle" stroke="#000" stroke-width="0.3">2</text></svg></body></html>
